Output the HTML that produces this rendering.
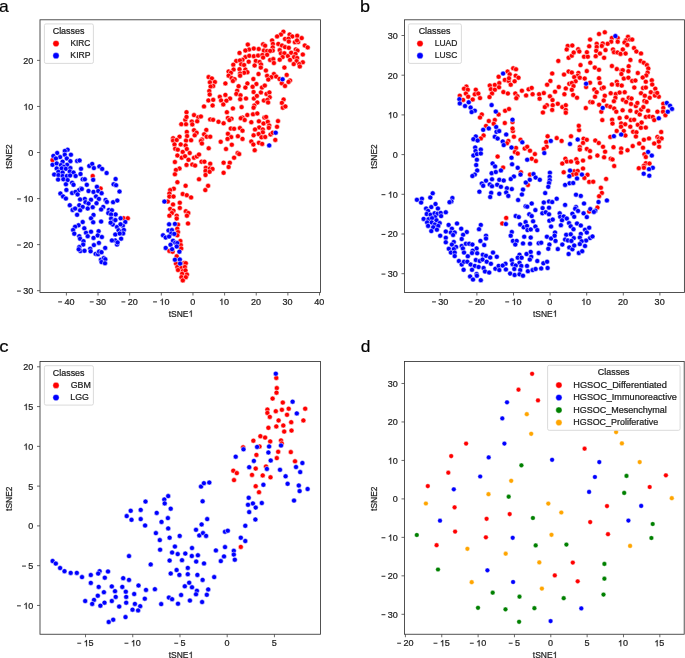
<!DOCTYPE html>
<html><head><meta charset="utf-8"><style>
html,body{margin:0;padding:0;background:#fff;}
body{width:685px;height:658px;overflow:hidden;}
svg{display:block;will-change:transform;}
.r{fill:#ff0000} .b{fill:#0000ff} .g{fill:#008000} .o{fill:#ffa500}
text{font-family:"Liberation Sans", sans-serif;stroke:#1c1c1c;stroke-width:0.22px;}
</style></head><body>
<svg width="685" height="658" viewBox="0 0 685 658">
<g stroke="#fff" stroke-width="0.5">
<circle class="r" cx="52.5" cy="160.1" r="2.5"/>
<circle class="r" cx="92.7" cy="176.0" r="2.5"/>
<circle class="r" cx="100.6" cy="188.5" r="2.5"/>
<circle class="r" cx="123.6" cy="218.3" r="2.5"/>
<circle class="r" cx="127.8" cy="218.3" r="2.5"/>
<circle class="r" cx="167.8" cy="201.6" r="2.5"/>
<circle class="r" cx="173.0" cy="204.4" r="2.5"/>
<circle class="r" cx="179.8" cy="202.7" r="2.5"/>
<circle class="r" cx="179.8" cy="207.9" r="2.5"/>
<circle class="r" cx="170.2" cy="208.9" r="2.5"/>
<circle class="r" cx="173.5" cy="210.7" r="2.5"/>
<circle class="r" cx="171.9" cy="213.0" r="2.5"/>
<circle class="r" cx="169.4" cy="215.7" r="2.5"/>
<circle class="r" cx="176.7" cy="215.7" r="2.5"/>
<circle class="r" cx="176.7" cy="218.5" r="2.5"/>
<circle class="r" cx="185.8" cy="211.2" r="2.5"/>
<circle class="r" cx="188.3" cy="213.0" r="2.5"/>
<circle class="r" cx="186.9" cy="215.7" r="2.5"/>
<circle class="r" cx="188.0" cy="223.5" r="2.5"/>
<circle class="r" cx="178.0" cy="224.6" r="2.5"/>
<circle class="r" cx="177.3" cy="228.7" r="2.5"/>
<circle class="r" cx="178.0" cy="232.1" r="2.5"/>
<circle class="r" cx="177.3" cy="235.3" r="2.5"/>
<circle class="r" cx="180.4" cy="241.0" r="2.5"/>
<circle class="r" cx="180.8" cy="245.1" r="2.5"/>
<circle class="r" cx="181.2" cy="248.5" r="2.5"/>
<circle class="r" cx="169.4" cy="250.9" r="2.5"/>
<circle class="r" cx="172.6" cy="251.7" r="2.5"/>
<circle class="r" cx="176.7" cy="256.3" r="2.5"/>
<circle class="r" cx="176.0" cy="263.6" r="2.5"/>
<circle class="r" cx="184.2" cy="262.9" r="2.5"/>
<circle class="r" cx="185.8" cy="263.2" r="2.5"/>
<circle class="r" cx="177.3" cy="267.0" r="2.5"/>
<circle class="r" cx="181.4" cy="267.7" r="2.5"/>
<circle class="r" cx="184.9" cy="267.0" r="2.5"/>
<circle class="r" cx="178.0" cy="270.0" r="2.5"/>
<circle class="r" cx="182.8" cy="271.1" r="2.5"/>
<circle class="r" cx="185.5" cy="270.4" r="2.5"/>
<circle class="r" cx="182.1" cy="273.8" r="2.5"/>
<circle class="r" cx="186.9" cy="274.5" r="2.5"/>
<circle class="r" cx="181.4" cy="277.2" r="2.5"/>
<circle class="r" cx="185.8" cy="277.2" r="2.5"/>
<circle class="r" cx="182.8" cy="280.4" r="2.5"/>
<circle class="r" cx="186.5" cy="112.2" r="2.5"/>
<circle class="r" cx="194.0" cy="115.1" r="2.5"/>
<circle class="r" cx="198.3" cy="117.2" r="2.5"/>
<circle class="r" cx="200.9" cy="116.5" r="2.5"/>
<circle class="r" cx="185.3" cy="119.8" r="2.5"/>
<circle class="r" cx="186.5" cy="116.9" r="2.5"/>
<circle class="r" cx="181.3" cy="124.2" r="2.5"/>
<circle class="r" cx="186.0" cy="124.2" r="2.5"/>
<circle class="r" cx="191.8" cy="121.6" r="2.5"/>
<circle class="r" cx="192.3" cy="124.4" r="2.5"/>
<circle class="r" cx="197.2" cy="121.3" r="2.5"/>
<circle class="r" cx="210.2" cy="119.4" r="2.5"/>
<circle class="r" cx="213.1" cy="119.8" r="2.5"/>
<circle class="r" cx="218.5" cy="121.8" r="2.5"/>
<circle class="r" cx="223.6" cy="123.3" r="2.5"/>
<circle class="r" cx="226.9" cy="112.2" r="2.5"/>
<circle class="r" cx="227.9" cy="117.9" r="2.5"/>
<circle class="r" cx="231.5" cy="118.7" r="2.5"/>
<circle class="r" cx="229.4" cy="120.1" r="2.5"/>
<circle class="r" cx="230.8" cy="128.5" r="2.5"/>
<circle class="r" cx="234.1" cy="128.8" r="2.5"/>
<circle class="r" cx="206.3" cy="129.9" r="2.5"/>
<circle class="r" cx="194.0" cy="130.2" r="2.5"/>
<circle class="r" cx="196.6" cy="132.8" r="2.5"/>
<circle class="r" cx="194.7" cy="135.3" r="2.5"/>
<circle class="r" cx="186.8" cy="131.9" r="2.5"/>
<circle class="r" cx="187.1" cy="136.0" r="2.5"/>
<circle class="r" cx="179.5" cy="136.7" r="2.5"/>
<circle class="r" cx="173.1" cy="138.2" r="2.5"/>
<circle class="r" cx="173.1" cy="140.6" r="2.5"/>
<circle class="r" cx="176.7" cy="140.0" r="2.5"/>
<circle class="r" cx="186.0" cy="140.6" r="2.5"/>
<circle class="r" cx="191.1" cy="140.3" r="2.5"/>
<circle class="r" cx="201.9" cy="139.6" r="2.5"/>
<circle class="r" cx="200.9" cy="141.0" r="2.5"/>
<circle class="r" cx="201.9" cy="143.5" r="2.5"/>
<circle class="r" cx="204.1" cy="134.3" r="2.5"/>
<circle class="r" cx="206.7" cy="136.7" r="2.5"/>
<circle class="r" cx="210.2" cy="136.7" r="2.5"/>
<circle class="r" cx="180.7" cy="144.4" r="2.5"/>
<circle class="r" cx="174.5" cy="144.4" r="2.5"/>
<circle class="r" cx="185.6" cy="145.4" r="2.5"/>
<circle class="r" cx="175.2" cy="148.7" r="2.5"/>
<circle class="r" cx="177.8" cy="149.7" r="2.5"/>
<circle class="r" cx="182.7" cy="151.9" r="2.5"/>
<circle class="r" cx="186.8" cy="149.0" r="2.5"/>
<circle class="r" cx="189.7" cy="153.0" r="2.5"/>
<circle class="r" cx="177.4" cy="155.5" r="2.5"/>
<circle class="r" cx="181.7" cy="157.7" r="2.5"/>
<circle class="r" cx="185.0" cy="156.2" r="2.5"/>
<circle class="r" cx="188.5" cy="159.8" r="2.5"/>
<circle class="r" cx="194.0" cy="157.7" r="2.5"/>
<circle class="r" cx="196.9" cy="156.5" r="2.5"/>
<circle class="r" cx="199.0" cy="154.5" r="2.5"/>
<circle class="r" cx="174.9" cy="162.0" r="2.5"/>
<circle class="r" cx="186.5" cy="164.9" r="2.5"/>
<circle class="r" cx="192.3" cy="164.6" r="2.5"/>
<circle class="r" cx="195.1" cy="165.6" r="2.5"/>
<circle class="r" cx="201.5" cy="161.7" r="2.5"/>
<circle class="r" cx="204.4" cy="161.7" r="2.5"/>
<circle class="r" cx="210.2" cy="163.7" r="2.5"/>
<circle class="r" cx="205.8" cy="167.8" r="2.5"/>
<circle class="r" cx="209.9" cy="168.5" r="2.5"/>
<circle class="r" cx="212.5" cy="168.9" r="2.5"/>
<circle class="r" cx="205.5" cy="170.9" r="2.5"/>
<circle class="r" cx="209.6" cy="171.8" r="2.5"/>
<circle class="r" cx="205.5" cy="175.0" r="2.5"/>
<circle class="r" cx="179.5" cy="168.5" r="2.5"/>
<circle class="r" cx="175.9" cy="169.9" r="2.5"/>
<circle class="r" cx="174.9" cy="174.3" r="2.5"/>
<circle class="r" cx="199.0" cy="179.3" r="2.5"/>
<circle class="r" cx="177.4" cy="182.2" r="2.5"/>
<circle class="r" cx="185.6" cy="185.8" r="2.5"/>
<circle class="r" cx="208.1" cy="185.8" r="2.5"/>
<circle class="r" cx="205.3" cy="190.1" r="2.5"/>
<circle class="r" cx="173.8" cy="188.7" r="2.5"/>
<circle class="r" cx="170.2" cy="190.1" r="2.5"/>
<circle class="r" cx="169.4" cy="193.5" r="2.5"/>
<circle class="r" cx="169.4" cy="196.6" r="2.5"/>
<circle class="r" cx="173.5" cy="196.6" r="2.5"/>
<circle class="r" cx="182.7" cy="194.0" r="2.5"/>
<circle class="r" cx="186.8" cy="195.2" r="2.5"/>
<circle class="r" cx="191.1" cy="197.4" r="2.5"/>
<circle class="r" cx="220.7" cy="141.8" r="2.5"/>
<circle class="r" cx="231.8" cy="144.7" r="2.5"/>
<circle class="r" cx="226.0" cy="149.0" r="2.5"/>
<circle class="r" cx="208.7" cy="148.3" r="2.5"/>
<circle class="r" cx="223.6" cy="162.7" r="2.5"/>
<circle class="r" cx="229.8" cy="162.7" r="2.5"/>
<circle class="r" cx="228.6" cy="167.0" r="2.5"/>
<circle class="r" cx="223.6" cy="172.8" r="2.5"/>
<circle class="r" cx="227.9" cy="133.8" r="2.5"/>
<circle class="r" cx="231.2" cy="137.1" r="2.5"/>
<circle class="r" cx="227.5" cy="138.9" r="2.5"/>
<circle class="r" cx="234.1" cy="157.7" r="2.5"/>
<circle class="r" cx="237.2" cy="90.7" r="2.5"/>
<circle class="r" cx="236.3" cy="93.9" r="2.5"/>
<circle class="r" cx="240.5" cy="95.3" r="2.5"/>
<circle class="r" cx="240.2" cy="99.2" r="2.5"/>
<circle class="r" cx="246.0" cy="98.5" r="2.5"/>
<circle class="r" cx="230.0" cy="98.5" r="2.5"/>
<circle class="r" cx="232.9" cy="108.4" r="2.5"/>
<circle class="r" cx="241.6" cy="107.1" r="2.5"/>
<circle class="r" cx="253.6" cy="92.0" r="2.5"/>
<circle class="r" cx="260.9" cy="92.4" r="2.5"/>
<circle class="r" cx="266.5" cy="93.9" r="2.5"/>
<circle class="r" cx="269.4" cy="92.4" r="2.5"/>
<circle class="r" cx="269.7" cy="97.2" r="2.5"/>
<circle class="r" cx="253.9" cy="98.5" r="2.5"/>
<circle class="r" cx="256.9" cy="95.9" r="2.5"/>
<circle class="r" cx="263.9" cy="100.5" r="2.5"/>
<circle class="r" cx="267.4" cy="99.9" r="2.5"/>
<circle class="r" cx="268.1" cy="102.5" r="2.5"/>
<circle class="r" cx="257.3" cy="102.5" r="2.5"/>
<circle class="r" cx="254.3" cy="105.5" r="2.5"/>
<circle class="r" cx="253.6" cy="107.7" r="2.5"/>
<circle class="r" cx="283.6" cy="99.5" r="2.5"/>
<circle class="r" cx="281.9" cy="102.9" r="2.5"/>
<circle class="r" cx="282.8" cy="107.7" r="2.5"/>
<circle class="r" cx="285.4" cy="106.4" r="2.5"/>
<circle class="r" cx="247.3" cy="115.0" r="2.5"/>
<circle class="r" cx="253.0" cy="114.3" r="2.5"/>
<circle class="r" cx="257.3" cy="113.4" r="2.5"/>
<circle class="r" cx="264.4" cy="117.6" r="2.5"/>
<circle class="r" cx="266.1" cy="116.9" r="2.5"/>
<circle class="r" cx="242.5" cy="117.6" r="2.5"/>
<circle class="r" cx="240.8" cy="118.2" r="2.5"/>
<circle class="r" cx="244.7" cy="120.0" r="2.5"/>
<circle class="r" cx="251.3" cy="122.2" r="2.5"/>
<circle class="r" cx="258.9" cy="121.3" r="2.5"/>
<circle class="r" cx="263.5" cy="123.5" r="2.5"/>
<circle class="r" cx="267.8" cy="121.8" r="2.5"/>
<circle class="r" cx="278.0" cy="121.1" r="2.5"/>
<circle class="r" cx="277.0" cy="126.8" r="2.5"/>
<circle class="r" cx="269.2" cy="125.5" r="2.5"/>
<circle class="r" cx="259.2" cy="127.4" r="2.5"/>
<circle class="r" cx="255.0" cy="129.4" r="2.5"/>
<circle class="r" cx="262.8" cy="129.4" r="2.5"/>
<circle class="r" cx="268.8" cy="127.8" r="2.5"/>
<circle class="r" cx="239.9" cy="128.1" r="2.5"/>
<circle class="r" cx="242.5" cy="130.7" r="2.5"/>
<circle class="r" cx="262.8" cy="132.3" r="2.5"/>
<circle class="r" cx="258.6" cy="134.0" r="2.5"/>
<circle class="r" cx="253.6" cy="135.3" r="2.5"/>
<circle class="r" cx="261.5" cy="137.3" r="2.5"/>
<circle class="r" cx="265.2" cy="137.0" r="2.5"/>
<circle class="r" cx="270.5" cy="134.4" r="2.5"/>
<circle class="r" cx="272.7" cy="132.7" r="2.5"/>
<circle class="r" cx="237.9" cy="136.2" r="2.5"/>
<circle class="r" cx="242.5" cy="138.9" r="2.5"/>
<circle class="r" cx="275.3" cy="139.9" r="2.5"/>
<circle class="r" cx="251.3" cy="141.5" r="2.5"/>
<circle class="r" cx="258.9" cy="142.8" r="2.5"/>
<circle class="r" cx="262.2" cy="143.9" r="2.5"/>
<circle class="r" cx="253.4" cy="144.5" r="2.5"/>
<circle class="r" cx="254.7" cy="150.2" r="2.5"/>
<circle class="r" cx="237.6" cy="153.1" r="2.5"/>
<circle class="r" cx="239.2" cy="154.1" r="2.5"/>
<circle class="r" cx="247.8" cy="44.6" r="2.5"/>
<circle class="r" cx="249.1" cy="49.5" r="2.5"/>
<circle class="r" cx="245.4" cy="50.5" r="2.5"/>
<circle class="r" cx="239.5" cy="52.9" r="2.5"/>
<circle class="r" cx="245.4" cy="57.1" r="2.5"/>
<circle class="r" cx="249.3" cy="55.8" r="2.5"/>
<circle class="r" cx="242.5" cy="59.7" r="2.5"/>
<circle class="r" cx="236.2" cy="61.0" r="2.5"/>
<circle class="r" cx="239.9" cy="60.4" r="2.5"/>
<circle class="r" cx="233.3" cy="64.7" r="2.5"/>
<circle class="r" cx="241.2" cy="64.3" r="2.5"/>
<circle class="r" cx="244.1" cy="65.0" r="2.5"/>
<circle class="r" cx="248.7" cy="61.7" r="2.5"/>
<circle class="r" cx="233.6" cy="69.6" r="2.5"/>
<circle class="r" cx="239.5" cy="69.2" r="2.5"/>
<circle class="r" cx="245.4" cy="69.6" r="2.5"/>
<circle class="r" cx="247.4" cy="72.2" r="2.5"/>
<circle class="r" cx="244.1" cy="72.8" r="2.5"/>
<circle class="r" cx="240.1" cy="73.5" r="2.5"/>
<circle class="r" cx="240.1" cy="75.7" r="2.5"/>
<circle class="r" cx="228.6" cy="71.5" r="2.5"/>
<circle class="r" cx="230.9" cy="72.8" r="2.5"/>
<circle class="r" cx="228.6" cy="75.7" r="2.5"/>
<circle class="r" cx="231.6" cy="78.1" r="2.5"/>
<circle class="r" cx="234.6" cy="79.2" r="2.5"/>
<circle class="r" cx="232.9" cy="81.0" r="2.5"/>
<circle class="r" cx="208.6" cy="77.1" r="2.5"/>
<circle class="r" cx="211.9" cy="78.4" r="2.5"/>
<circle class="r" cx="209.9" cy="82.3" r="2.5"/>
<circle class="r" cx="214.9" cy="82.0" r="2.5"/>
<circle class="r" cx="213.2" cy="86.0" r="2.5"/>
<circle class="r" cx="210.6" cy="86.6" r="2.5"/>
<circle class="r" cx="225.4" cy="83.4" r="2.5"/>
<circle class="r" cx="238.6" cy="86.2" r="2.5"/>
<circle class="r" cx="247.4" cy="83.4" r="2.5"/>
<circle class="r" cx="245.4" cy="87.6" r="2.5"/>
<circle class="r" cx="209.3" cy="91.0" r="2.5"/>
<circle class="r" cx="209.7" cy="94.5" r="2.5"/>
<circle class="r" cx="219.8" cy="96.8" r="2.5"/>
<circle class="r" cx="225.4" cy="94.9" r="2.5"/>
<circle class="r" cx="221.1" cy="100.4" r="2.5"/>
<circle class="r" cx="226.4" cy="100.7" r="2.5"/>
<circle class="r" cx="208.4" cy="100.4" r="2.5"/>
<circle class="r" cx="213.2" cy="99.8" r="2.5"/>
<circle class="r" cx="223.3" cy="104.4" r="2.5"/>
<circle class="r" cx="204.0" cy="106.4" r="2.5"/>
<circle class="r" cx="212.6" cy="105.4" r="2.5"/>
<circle class="r" cx="283.4" cy="31.7" r="2.5"/>
<circle class="r" cx="280.9" cy="34.6" r="2.5"/>
<circle class="r" cx="277.1" cy="36.4" r="2.5"/>
<circle class="r" cx="289.6" cy="34.6" r="2.5"/>
<circle class="r" cx="292.3" cy="36.4" r="2.5"/>
<circle class="r" cx="297.2" cy="35.8" r="2.5"/>
<circle class="r" cx="301.7" cy="38.1" r="2.5"/>
<circle class="r" cx="285.0" cy="38.9" r="2.5"/>
<circle class="r" cx="288.5" cy="38.7" r="2.5"/>
<circle class="r" cx="288.8" cy="41.6" r="2.5"/>
<circle class="r" cx="294.9" cy="42.2" r="2.5"/>
<circle class="r" cx="298.2" cy="42.0" r="2.5"/>
<circle class="r" cx="297.0" cy="40.4" r="2.5"/>
<circle class="r" cx="272.1" cy="40.4" r="2.5"/>
<circle class="r" cx="272.9" cy="43.9" r="2.5"/>
<circle class="r" cx="278.3" cy="43.9" r="2.5"/>
<circle class="r" cx="282.0" cy="45.5" r="2.5"/>
<circle class="r" cx="285.0" cy="47.1" r="2.5"/>
<circle class="r" cx="288.8" cy="47.8" r="2.5"/>
<circle class="r" cx="304.8" cy="45.5" r="2.5"/>
<circle class="r" cx="307.7" cy="47.4" r="2.5"/>
<circle class="r" cx="263.1" cy="44.3" r="2.5"/>
<circle class="r" cx="265.1" cy="45.7" r="2.5"/>
<circle class="r" cx="272.7" cy="47.4" r="2.5"/>
<circle class="r" cx="272.7" cy="50.6" r="2.5"/>
<circle class="r" cx="279.7" cy="50.1" r="2.5"/>
<circle class="r" cx="280.9" cy="53.3" r="2.5"/>
<circle class="r" cx="284.4" cy="53.3" r="2.5"/>
<circle class="r" cx="287.9" cy="56.0" r="2.5"/>
<circle class="r" cx="291.2" cy="52.7" r="2.5"/>
<circle class="r" cx="295.8" cy="49.4" r="2.5"/>
<circle class="r" cx="297.5" cy="50.6" r="2.5"/>
<circle class="r" cx="295.5" cy="53.9" r="2.5"/>
<circle class="r" cx="294.0" cy="57.1" r="2.5"/>
<circle class="r" cx="297.2" cy="58.0" r="2.5"/>
<circle class="r" cx="302.8" cy="54.5" r="2.5"/>
<circle class="r" cx="282.6" cy="57.1" r="2.5"/>
<circle class="r" cx="279.7" cy="59.7" r="2.5"/>
<circle class="r" cx="290.0" cy="59.9" r="2.5"/>
<circle class="r" cx="296.6" cy="61.1" r="2.5"/>
<circle class="r" cx="302.8" cy="62.3" r="2.5"/>
<circle class="r" cx="293.7" cy="64.1" r="2.5"/>
<circle class="r" cx="299.3" cy="64.1" r="2.5"/>
<circle class="r" cx="299.8" cy="66.5" r="2.5"/>
<circle class="r" cx="284.4" cy="67.6" r="2.5"/>
<circle class="r" cx="253.8" cy="48.6" r="2.5"/>
<circle class="r" cx="258.7" cy="49.0" r="2.5"/>
<circle class="r" cx="263.9" cy="50.6" r="2.5"/>
<circle class="r" cx="267.1" cy="50.9" r="2.5"/>
<circle class="r" cx="270.1" cy="50.9" r="2.5"/>
<circle class="r" cx="253.8" cy="56.2" r="2.5"/>
<circle class="r" cx="258.1" cy="55.6" r="2.5"/>
<circle class="r" cx="262.4" cy="55.0" r="2.5"/>
<circle class="r" cx="267.1" cy="54.8" r="2.5"/>
<circle class="r" cx="263.1" cy="57.6" r="2.5"/>
<circle class="r" cx="255.8" cy="60.9" r="2.5"/>
<circle class="r" cx="259.6" cy="62.0" r="2.5"/>
<circle class="r" cx="270.1" cy="59.9" r="2.5"/>
<circle class="r" cx="273.3" cy="59.1" r="2.5"/>
<circle class="r" cx="273.9" cy="63.0" r="2.5"/>
<circle class="r" cx="254.6" cy="65.5" r="2.5"/>
<circle class="r" cx="261.0" cy="64.4" r="2.5"/>
<circle class="r" cx="260.8" cy="67.6" r="2.5"/>
<circle class="r" cx="265.9" cy="70.5" r="2.5"/>
<circle class="r" cx="258.5" cy="74.0" r="2.5"/>
<circle class="r" cx="267.1" cy="75.8" r="2.5"/>
<circle class="r" cx="273.9" cy="74.0" r="2.5"/>
<circle class="r" cx="271.3" cy="77.2" r="2.5"/>
<circle class="r" cx="276.2" cy="76.6" r="2.5"/>
<circle class="r" cx="268.3" cy="79.6" r="2.5"/>
<circle class="r" cx="279.5" cy="79.0" r="2.5"/>
<circle class="r" cx="286.7" cy="74.9" r="2.5"/>
<circle class="r" cx="290.0" cy="80.5" r="2.5"/>
<circle class="r" cx="288.5" cy="81.9" r="2.5"/>
<circle class="r" cx="253.4" cy="79.0" r="2.5"/>
<circle class="r" cx="256.4" cy="84.0" r="2.5"/>
<circle class="r" cx="252.6" cy="86.8" r="2.5"/>
<circle class="r" cx="262.0" cy="87.5" r="2.5"/>
<circle class="r" cx="264.8" cy="85.6" r="2.5"/>
<circle class="r" cx="281.8" cy="83.3" r="2.5"/>
<circle class="r" cx="285.0" cy="86.0" r="2.5"/>
<circle class="b" cx="67.6" cy="149.7" r="2.5"/>
<circle class="b" cx="64.8" cy="150.9" r="2.5"/>
<circle class="b" cx="57.2" cy="153.0" r="2.5"/>
<circle class="b" cx="53.4" cy="155.9" r="2.5"/>
<circle class="b" cx="64.8" cy="154.7" r="2.5"/>
<circle class="b" cx="70.9" cy="154.7" r="2.5"/>
<circle class="b" cx="60.1" cy="157.1" r="2.5"/>
<circle class="b" cx="55.9" cy="158.4" r="2.5"/>
<circle class="b" cx="66.8" cy="158.4" r="2.5"/>
<circle class="b" cx="62.6" cy="161.7" r="2.5"/>
<circle class="b" cx="70.4" cy="161.2" r="2.5"/>
<circle class="b" cx="77.1" cy="160.9" r="2.5"/>
<circle class="b" cx="79.6" cy="160.4" r="2.5"/>
<circle class="b" cx="52.5" cy="164.8" r="2.5"/>
<circle class="b" cx="56.7" cy="163.4" r="2.5"/>
<circle class="b" cx="60.9" cy="165.1" r="2.5"/>
<circle class="b" cx="67.1" cy="164.8" r="2.5"/>
<circle class="b" cx="63.8" cy="166.8" r="2.5"/>
<circle class="b" cx="56.7" cy="168.4" r="2.5"/>
<circle class="b" cx="61.7" cy="168.4" r="2.5"/>
<circle class="b" cx="65.9" cy="168.8" r="2.5"/>
<circle class="b" cx="70.4" cy="168.1" r="2.5"/>
<circle class="b" cx="69.8" cy="171.4" r="2.5"/>
<circle class="b" cx="73.5" cy="172.6" r="2.5"/>
<circle class="b" cx="81.0" cy="168.8" r="2.5"/>
<circle class="b" cx="58.4" cy="171.8" r="2.5"/>
<circle class="b" cx="62.6" cy="172.6" r="2.5"/>
<circle class="b" cx="54.2" cy="174.6" r="2.5"/>
<circle class="b" cx="58.4" cy="175.1" r="2.5"/>
<circle class="b" cx="62.6" cy="176.0" r="2.5"/>
<circle class="b" cx="66.8" cy="176.0" r="2.5"/>
<circle class="b" cx="70.1" cy="175.5" r="2.5"/>
<circle class="b" cx="75.6" cy="176.0" r="2.5"/>
<circle class="b" cx="80.5" cy="174.0" r="2.5"/>
<circle class="b" cx="58.1" cy="179.6" r="2.5"/>
<circle class="b" cx="63.4" cy="179.3" r="2.5"/>
<circle class="b" cx="67.6" cy="180.1" r="2.5"/>
<circle class="b" cx="72.1" cy="182.7" r="2.5"/>
<circle class="b" cx="65.9" cy="184.3" r="2.5"/>
<circle class="b" cx="73.5" cy="184.8" r="2.5"/>
<circle class="b" cx="82.7" cy="179.3" r="2.5"/>
<circle class="b" cx="84.8" cy="179.3" r="2.5"/>
<circle class="b" cx="89.3" cy="165.9" r="2.5"/>
<circle class="b" cx="92.2" cy="163.9" r="2.5"/>
<circle class="b" cx="93.9" cy="168.1" r="2.5"/>
<circle class="b" cx="99.4" cy="166.4" r="2.5"/>
<circle class="b" cx="102.2" cy="168.9" r="2.5"/>
<circle class="b" cx="106.6" cy="173.0" r="2.5"/>
<circle class="b" cx="93.2" cy="179.8" r="2.5"/>
<circle class="b" cx="115.6" cy="179.0" r="2.5"/>
<circle class="b" cx="113.6" cy="184.3" r="2.5"/>
<circle class="b" cx="116.1" cy="185.2" r="2.5"/>
<circle class="b" cx="119.5" cy="191.5" r="2.5"/>
<circle class="b" cx="86.8" cy="184.8" r="2.5"/>
<circle class="b" cx="81.0" cy="188.5" r="2.5"/>
<circle class="b" cx="78.8" cy="190.2" r="2.5"/>
<circle class="b" cx="66.4" cy="189.9" r="2.5"/>
<circle class="b" cx="60.4" cy="193.5" r="2.5"/>
<circle class="b" cx="63.1" cy="196.4" r="2.5"/>
<circle class="b" cx="65.9" cy="198.6" r="2.5"/>
<circle class="b" cx="72.1" cy="193.0" r="2.5"/>
<circle class="b" cx="75.5" cy="191.9" r="2.5"/>
<circle class="b" cx="77.6" cy="194.4" r="2.5"/>
<circle class="b" cx="81.8" cy="189.0" r="2.5"/>
<circle class="b" cx="88.5" cy="191.0" r="2.5"/>
<circle class="b" cx="93.5" cy="191.9" r="2.5"/>
<circle class="b" cx="96.9" cy="186.8" r="2.5"/>
<circle class="b" cx="98.2" cy="191.0" r="2.5"/>
<circle class="b" cx="101.6" cy="193.2" r="2.5"/>
<circle class="b" cx="96.0" cy="196.4" r="2.5"/>
<circle class="b" cx="98.9" cy="198.9" r="2.5"/>
<circle class="b" cx="80.1" cy="199.4" r="2.5"/>
<circle class="b" cx="84.8" cy="198.9" r="2.5"/>
<circle class="b" cx="91.0" cy="199.7" r="2.5"/>
<circle class="b" cx="85.5" cy="202.2" r="2.5"/>
<circle class="b" cx="88.5" cy="203.6" r="2.5"/>
<circle class="b" cx="69.8" cy="205.2" r="2.5"/>
<circle class="b" cx="72.6" cy="209.9" r="2.5"/>
<circle class="b" cx="75.1" cy="208.6" r="2.5"/>
<circle class="b" cx="79.3" cy="205.2" r="2.5"/>
<circle class="b" cx="82.7" cy="206.9" r="2.5"/>
<circle class="b" cx="80.1" cy="210.3" r="2.5"/>
<circle class="b" cx="87.7" cy="208.6" r="2.5"/>
<circle class="b" cx="92.7" cy="207.2" r="2.5"/>
<circle class="b" cx="96.5" cy="203.2" r="2.5"/>
<circle class="b" cx="105.6" cy="199.9" r="2.5"/>
<circle class="b" cx="106.9" cy="201.9" r="2.5"/>
<circle class="b" cx="113.1" cy="202.2" r="2.5"/>
<circle class="b" cx="117.3" cy="200.6" r="2.5"/>
<circle class="b" cx="103.2" cy="206.9" r="2.5"/>
<circle class="b" cx="101.1" cy="209.4" r="2.5"/>
<circle class="b" cx="108.9" cy="209.9" r="2.5"/>
<circle class="b" cx="111.9" cy="210.3" r="2.5"/>
<circle class="b" cx="108.3" cy="213.1" r="2.5"/>
<circle class="b" cx="115.6" cy="214.4" r="2.5"/>
<circle class="b" cx="111.1" cy="214.4" r="2.5"/>
<circle class="b" cx="77.1" cy="214.8" r="2.5"/>
<circle class="b" cx="93.5" cy="214.9" r="2.5"/>
<circle class="b" cx="91.0" cy="218.3" r="2.5"/>
<circle class="b" cx="93.2" cy="222.3" r="2.5"/>
<circle class="b" cx="101.1" cy="221.6" r="2.5"/>
<circle class="b" cx="111.1" cy="218.6" r="2.5"/>
<circle class="b" cx="120.6" cy="218.3" r="2.5"/>
<circle class="b" cx="113.6" cy="221.1" r="2.5"/>
<circle class="b" cx="125.3" cy="222.0" r="2.5"/>
<circle class="b" cx="112.8" cy="224.5" r="2.5"/>
<circle class="b" cx="117.0" cy="227.0" r="2.5"/>
<circle class="b" cx="122.8" cy="225.7" r="2.5"/>
<circle class="b" cx="118.6" cy="230.3" r="2.5"/>
<circle class="b" cx="122.0" cy="231.2" r="2.5"/>
<circle class="b" cx="82.7" cy="222.0" r="2.5"/>
<circle class="b" cx="78.5" cy="225.3" r="2.5"/>
<circle class="b" cx="75.1" cy="226.7" r="2.5"/>
<circle class="b" cx="73.1" cy="230.0" r="2.5"/>
<circle class="b" cx="74.3" cy="233.7" r="2.5"/>
<circle class="b" cx="84.3" cy="228.3" r="2.5"/>
<circle class="b" cx="86.0" cy="232.8" r="2.5"/>
<circle class="b" cx="91.0" cy="231.7" r="2.5"/>
<circle class="b" cx="87.7" cy="236.2" r="2.5"/>
<circle class="b" cx="79.3" cy="236.2" r="2.5"/>
<circle class="b" cx="80.1" cy="238.7" r="2.5"/>
<circle class="b" cx="83.5" cy="241.2" r="2.5"/>
<circle class="b" cx="93.5" cy="237.9" r="2.5"/>
<circle class="b" cx="98.6" cy="231.2" r="2.5"/>
<circle class="b" cx="97.7" cy="235.4" r="2.5"/>
<circle class="b" cx="101.9" cy="237.0" r="2.5"/>
<circle class="b" cx="98.9" cy="242.9" r="2.5"/>
<circle class="b" cx="93.9" cy="245.1" r="2.5"/>
<circle class="b" cx="115.3" cy="234.5" r="2.5"/>
<circle class="b" cx="121.1" cy="238.7" r="2.5"/>
<circle class="b" cx="115.3" cy="240.4" r="2.5"/>
<circle class="b" cx="111.9" cy="240.4" r="2.5"/>
<circle class="b" cx="117.0" cy="244.6" r="2.5"/>
<circle class="b" cx="83.2" cy="244.6" r="2.5"/>
<circle class="b" cx="79.3" cy="247.1" r="2.5"/>
<circle class="b" cx="90.2" cy="248.7" r="2.5"/>
<circle class="b" cx="105.2" cy="247.9" r="2.5"/>
<circle class="b" cx="80.4" cy="251.0" r="2.5"/>
<circle class="b" cx="84.5" cy="250.8" r="2.5"/>
<circle class="b" cx="90.6" cy="251.3" r="2.5"/>
<circle class="b" cx="95.6" cy="253.9" r="2.5"/>
<circle class="b" cx="98.0" cy="254.3" r="2.5"/>
<circle class="b" cx="99.1" cy="251.6" r="2.5"/>
<circle class="b" cx="101.5" cy="252.2" r="2.5"/>
<circle class="b" cx="100.9" cy="259.8" r="2.5"/>
<circle class="b" cx="103.8" cy="258.0" r="2.5"/>
<circle class="b" cx="105.3" cy="259.2" r="2.5"/>
<circle class="b" cx="101.5" cy="262.1" r="2.5"/>
<circle class="b" cx="105.0" cy="263.3" r="2.5"/>
<circle class="b" cx="78.7" cy="249.3" r="2.5"/>
<circle class="b" cx="164.4" cy="201.6" r="2.5"/>
<circle class="b" cx="169.1" cy="224.3" r="2.5"/>
<circle class="b" cx="174.9" cy="223.9" r="2.5"/>
<circle class="b" cx="168.5" cy="230.4" r="2.5"/>
<circle class="b" cx="171.9" cy="230.1" r="2.5"/>
<circle class="b" cx="171.2" cy="233.5" r="2.5"/>
<circle class="b" cx="174.3" cy="233.9" r="2.5"/>
<circle class="b" cx="163.0" cy="235.3" r="2.5"/>
<circle class="b" cx="165.7" cy="237.6" r="2.5"/>
<circle class="b" cx="169.1" cy="236.6" r="2.5"/>
<circle class="b" cx="173.0" cy="240.7" r="2.5"/>
<circle class="b" cx="175.3" cy="242.7" r="2.5"/>
<circle class="b" cx="170.5" cy="244.8" r="2.5"/>
<circle class="b" cx="177.3" cy="243.1" r="2.5"/>
<circle class="b" cx="176.7" cy="246.5" r="2.5"/>
<circle class="b" cx="165.7" cy="247.9" r="2.5"/>
<circle class="b" cx="172.1" cy="249.2" r="2.5"/>
<circle class="b" cx="179.4" cy="251.7" r="2.5"/>
<circle class="b" cx="174.9" cy="259.7" r="2.5"/>
<circle class="b" cx="179.8" cy="259.5" r="2.5"/>
<circle class="b" cx="180.1" cy="263.6" r="2.5"/>
<circle class="b" cx="275.7" cy="132.7" r="2.5"/>
<circle class="b" cx="269.2" cy="145.4" r="2.5"/>
<circle class="b" cx="282.6" cy="79.3" r="2.5"/>
<circle class="b" cx="115.4" cy="220.1" r="2.5"/>
<circle class="b" cx="110.6" cy="222.7" r="2.5"/>
<circle class="b" cx="120.5" cy="224.3" r="2.5"/>
<circle class="b" cx="123.9" cy="229.9" r="2.5"/>
<circle class="b" cx="123.1" cy="233.4" r="2.5"/>
<circle class="b" cx="119.7" cy="233.6" r="2.5"/>
<circle class="b" cx="117.6" cy="242.4" r="2.5"/>
</g>
<rect x="40" y="19.8" width="280.5" height="272.7" fill="none" stroke="#333" stroke-width="0.85"/>
<line x1="66.40" y1="292.5" x2="66.40" y2="295.5" stroke="#444" stroke-width="0.8"/>
<rect x="58.14" y="301.42" width="3.9" height="0.95" fill="#1c1c1c"/>
<text transform="translate(64.44,304.95) scale(1.0400,1)" font-size="8.7" fill="#1c1c1c">40</text>
<line x1="98.04" y1="292.5" x2="98.04" y2="295.5" stroke="#444" stroke-width="0.8"/>
<rect x="89.78" y="301.42" width="3.9" height="0.95" fill="#1c1c1c"/>
<text transform="translate(96.08,304.95) scale(1.0400,1)" font-size="8.7" fill="#1c1c1c">30</text>
<line x1="129.68" y1="292.5" x2="129.68" y2="295.5" stroke="#444" stroke-width="0.8"/>
<rect x="121.42" y="301.42" width="3.9" height="0.95" fill="#1c1c1c"/>
<text transform="translate(127.72,304.95) scale(1.0400,1)" font-size="8.7" fill="#1c1c1c">20</text>
<line x1="161.32" y1="292.5" x2="161.32" y2="295.5" stroke="#444" stroke-width="0.8"/>
<rect x="153.06" y="301.42" width="3.9" height="0.95" fill="#1c1c1c"/>
<path transform="translate(159.36,304.95) scale(0.00905,-0.00870)" d="M372.6 0L284.7 0L284.7 560Q235 512 117.2 456L117.2 541Q212 588 258 640Q289 678 299.3 716L372.6 716Z" fill="#1c1c1c" stroke="#1c1c1c" stroke-width="0.22" vector-effect="non-scaling-stroke"/>
<text transform="translate(164.40,304.95) scale(1.0400,1)" font-size="8.7" fill="#1c1c1c">0</text>
<line x1="192.96" y1="292.5" x2="192.96" y2="295.5" stroke="#444" stroke-width="0.8"/>
<text transform="translate(190.19,304.95) scale(1.0400,1)" font-size="8.7" fill="#1c1c1c">0</text>
<line x1="224.60" y1="292.5" x2="224.60" y2="295.5" stroke="#444" stroke-width="0.8"/>
<path transform="translate(218.96,304.95) scale(0.00905,-0.00870)" d="M372.6 0L284.7 0L284.7 560Q235 512 117.2 456L117.2 541Q212 588 258 640Q289 678 299.3 716L372.6 716Z" fill="#1c1c1c" stroke="#1c1c1c" stroke-width="0.22" vector-effect="non-scaling-stroke"/>
<text transform="translate(224.00,304.95) scale(1.0400,1)" font-size="8.7" fill="#1c1c1c">0</text>
<line x1="256.24" y1="292.5" x2="256.24" y2="295.5" stroke="#444" stroke-width="0.8"/>
<text transform="translate(250.91,304.95) scale(1.0400,1)" font-size="8.7" fill="#1c1c1c">20</text>
<line x1="287.88" y1="292.5" x2="287.88" y2="295.5" stroke="#444" stroke-width="0.8"/>
<text transform="translate(282.60,304.95) scale(1.0400,1)" font-size="8.7" fill="#1c1c1c">30</text>
<line x1="319.52" y1="292.5" x2="319.52" y2="295.5" stroke="#444" stroke-width="0.8"/>
<text transform="translate(314.31,304.95) scale(1.0400,1)" font-size="8.7" fill="#1c1c1c">40</text>
<line x1="37.0" y1="290.68" x2="40" y2="290.68" stroke="#444" stroke-width="0.8"/>
<rect x="16.99" y="290.60" width="3.9" height="0.95" fill="#1c1c1c"/>
<text transform="translate(23.29,294.13) scale(1.0400,1)" font-size="8.7" fill="#1c1c1c">30</text>
<line x1="37.0" y1="244.62" x2="40" y2="244.62" stroke="#444" stroke-width="0.8"/>
<rect x="16.99" y="244.54" width="3.9" height="0.95" fill="#1c1c1c"/>
<text transform="translate(23.29,248.07) scale(1.0400,1)" font-size="8.7" fill="#1c1c1c">20</text>
<line x1="37.0" y1="198.56" x2="40" y2="198.56" stroke="#444" stroke-width="0.8"/>
<rect x="16.99" y="198.48" width="3.9" height="0.95" fill="#1c1c1c"/>
<path transform="translate(23.29,202.01) scale(0.00905,-0.00870)" d="M372.6 0L284.7 0L284.7 560Q235 512 117.2 456L117.2 541Q212 588 258 640Q289 678 299.3 716L372.6 716Z" fill="#1c1c1c" stroke="#1c1c1c" stroke-width="0.22" vector-effect="non-scaling-stroke"/>
<text transform="translate(28.32,202.01) scale(1.0400,1)" font-size="8.7" fill="#1c1c1c">0</text>
<line x1="37.0" y1="152.50" x2="40" y2="152.50" stroke="#444" stroke-width="0.8"/>
<text transform="translate(28.32,155.95) scale(1.0400,1)" font-size="8.7" fill="#1c1c1c">0</text>
<line x1="37.0" y1="106.44" x2="40" y2="106.44" stroke="#444" stroke-width="0.8"/>
<path transform="translate(23.29,109.89) scale(0.00905,-0.00870)" d="M372.6 0L284.7 0L284.7 560Q235 512 117.2 456L117.2 541Q212 588 258 640Q289 678 299.3 716L372.6 716Z" fill="#1c1c1c" stroke="#1c1c1c" stroke-width="0.22" vector-effect="non-scaling-stroke"/>
<text transform="translate(28.32,109.89) scale(1.0400,1)" font-size="8.7" fill="#1c1c1c">0</text>
<line x1="37.0" y1="60.38" x2="40" y2="60.38" stroke="#444" stroke-width="0.8"/>
<text transform="translate(23.29,63.83) scale(1.0400,1)" font-size="8.7" fill="#1c1c1c">20</text>
<text transform="translate(168.69,316.70) scale(0.9650,1)" font-size="8.8" fill="#1c1c1c">tSNE</text>
<path transform="translate(188.51,316.70) scale(0.00849,-0.00880)" d="M372.6 0L284.7 0L284.7 560Q235 512 117.2 456L117.2 541Q212 588 258 640Q289 678 299.3 716L372.6 716Z" fill="#1c1c1c" stroke="#1c1c1c" stroke-width="0.22" vector-effect="non-scaling-stroke"/>
<g transform="translate(11.8,156.60) rotate(-90)"><text transform="translate(-12.06,0.00) scale(0.9180,1)" font-size="9.2" fill="#1c1c1c">tSNE2</text></g>
<rect x="44.4" y="23.9" width="49" height="39.5" rx="1.6" fill="#fff" fill-opacity="0.8" stroke="#d6d6d6" stroke-width="0.9"/>
<text x="52.70" y="33.80" font-size="8.3" fill="#1c1c1c" textLength="31.78" lengthAdjust="spacingAndGlyphs">Classes</text>
<circle cx="56.0" cy="43.60" r="3.15" fill="#ff0000" stroke="#fff" stroke-width="0.4"/>
<text x="70.41" y="45.80" font-size="8.3" fill="#1c1c1c" textLength="20.01" lengthAdjust="spacingAndGlyphs">KIRC</text>
<circle cx="56.0" cy="55.70" r="3.15" fill="#0000ff" stroke="#fff" stroke-width="0.4"/>
<text x="70.39" y="57.90" font-size="8.3" fill="#1c1c1c" textLength="20.16" lengthAdjust="spacingAndGlyphs">KIRP</text>
<text x="-0.99" y="12.20" font-size="17" fill="#000" textLength="9.74" lengthAdjust="spacingAndGlyphs">a</text>
<g stroke="#fff" stroke-width="0.5">
<circle class="r" cx="466.4" cy="86.6" r="2.5"/>
<circle class="r" cx="464.0" cy="88.7" r="2.5"/>
<circle class="r" cx="467.8" cy="89.7" r="2.5"/>
<circle class="r" cx="459.8" cy="95.7" r="2.5"/>
<circle class="r" cx="465.9" cy="93.6" r="2.5"/>
<circle class="r" cx="468.2" cy="96.7" r="2.5"/>
<circle class="r" cx="463.1" cy="99.9" r="2.5"/>
<circle class="r" cx="475.8" cy="89.7" r="2.5"/>
<circle class="r" cx="474.8" cy="94.3" r="2.5"/>
<circle class="r" cx="478.3" cy="93.6" r="2.5"/>
<circle class="r" cx="480.0" cy="98.1" r="2.5"/>
<circle class="r" cx="472.7" cy="99.5" r="2.5"/>
<circle class="r" cx="489.8" cy="85.5" r="2.5"/>
<circle class="r" cx="494.8" cy="84.9" r="2.5"/>
<circle class="r" cx="498.6" cy="76.8" r="2.5"/>
<circle class="r" cx="499.3" cy="83.1" r="2.5"/>
<circle class="r" cx="499.0" cy="87.3" r="2.5"/>
<circle class="r" cx="490.9" cy="89.2" r="2.5"/>
<circle class="r" cx="494.8" cy="89.7" r="2.5"/>
<circle class="r" cx="492.0" cy="93.4" r="2.5"/>
<circle class="r" cx="489.5" cy="97.1" r="2.5"/>
<circle class="r" cx="481.8" cy="114.4" r="2.5"/>
<circle class="r" cx="480.0" cy="117.5" r="2.5"/>
<circle class="r" cx="488.8" cy="121.0" r="2.5"/>
<circle class="r" cx="494.8" cy="120.0" r="2.5"/>
<circle class="r" cx="493.7" cy="123.8" r="2.5"/>
<circle class="r" cx="486.0" cy="125.9" r="2.5"/>
<circle class="r" cx="498.6" cy="114.4" r="2.5"/>
<circle class="r" cx="483.6" cy="135.4" r="2.5"/>
<circle class="r" cx="480.8" cy="138.5" r="2.5"/>
<circle class="r" cx="497.6" cy="156.6" r="2.5"/>
<circle class="r" cx="506.2" cy="217.9" r="2.5"/>
<circle class="r" cx="502.3" cy="223.5" r="2.5"/>
<circle class="r" cx="589.2" cy="211.5" r="2.5"/>
<circle class="r" cx="512.9" cy="131.1" r="2.5"/>
<circle class="r" cx="513.9" cy="136.7" r="2.5"/>
<circle class="r" cx="508.3" cy="140.9" r="2.5"/>
<circle class="r" cx="506.9" cy="143.3" r="2.5"/>
<circle class="r" cx="520.5" cy="139.8" r="2.5"/>
<circle class="r" cx="516.0" cy="147.9" r="2.5"/>
<circle class="r" cx="514.9" cy="152.1" r="2.5"/>
<circle class="r" cx="517.7" cy="153.5" r="2.5"/>
<circle class="r" cx="524.7" cy="148.5" r="2.5"/>
<circle class="r" cx="527.2" cy="146.8" r="2.5"/>
<circle class="r" cx="530.0" cy="150.7" r="2.5"/>
<circle class="r" cx="534.9" cy="154.1" r="2.5"/>
<circle class="r" cx="531.7" cy="158.7" r="2.5"/>
<circle class="r" cx="535.9" cy="161.1" r="2.5"/>
<circle class="r" cx="503.1" cy="167.6" r="2.5"/>
<circle class="r" cx="520.9" cy="172.3" r="2.5"/>
<circle class="r" cx="530.0" cy="174.6" r="2.5"/>
<circle class="r" cx="527.9" cy="184.9" r="2.5"/>
<circle class="r" cx="547.6" cy="136.3" r="2.5"/>
<circle class="r" cx="546.2" cy="141.9" r="2.5"/>
<circle class="r" cx="546.6" cy="146.8" r="2.5"/>
<circle class="r" cx="543.8" cy="148.9" r="2.5"/>
<circle class="r" cx="556.7" cy="138.1" r="2.5"/>
<circle class="r" cx="561.6" cy="140.9" r="2.5"/>
<circle class="r" cx="571.0" cy="136.3" r="2.5"/>
<circle class="r" cx="583.6" cy="138.7" r="2.5"/>
<circle class="r" cx="586.8" cy="139.8" r="2.5"/>
<circle class="r" cx="583.0" cy="142.9" r="2.5"/>
<circle class="r" cx="579.8" cy="147.1" r="2.5"/>
<circle class="r" cx="579.8" cy="149.6" r="2.5"/>
<circle class="r" cx="586.8" cy="148.9" r="2.5"/>
<circle class="r" cx="590.0" cy="151.0" r="2.5"/>
<circle class="r" cx="590.0" cy="157.3" r="2.5"/>
<circle class="r" cx="565.4" cy="158.7" r="2.5"/>
<circle class="r" cx="562.3" cy="163.6" r="2.5"/>
<circle class="r" cx="566.8" cy="161.5" r="2.5"/>
<circle class="r" cx="571.0" cy="161.5" r="2.5"/>
<circle class="r" cx="576.3" cy="159.2" r="2.5"/>
<circle class="r" cx="577.4" cy="162.5" r="2.5"/>
<circle class="r" cx="583.0" cy="160.6" r="2.5"/>
<circle class="r" cx="583.0" cy="168.5" r="2.5"/>
<circle class="r" cx="563.7" cy="172.3" r="2.5"/>
<circle class="r" cx="574.2" cy="171.3" r="2.5"/>
<circle class="r" cx="577.7" cy="170.9" r="2.5"/>
<circle class="r" cx="572.8" cy="174.6" r="2.5"/>
<circle class="r" cx="576.3" cy="174.1" r="2.5"/>
<circle class="r" cx="587.5" cy="174.8" r="2.5"/>
<circle class="r" cx="584.4" cy="177.9" r="2.5"/>
<circle class="r" cx="589.2" cy="181.9" r="2.5"/>
<circle class="r" cx="579.1" cy="130.0" r="2.5"/>
<circle class="r" cx="513.2" cy="68.3" r="2.5"/>
<circle class="r" cx="516.0" cy="69.3" r="2.5"/>
<circle class="r" cx="507.6" cy="71.5" r="2.5"/>
<circle class="r" cx="509.7" cy="74.3" r="2.5"/>
<circle class="r" cx="515.7" cy="75.7" r="2.5"/>
<circle class="r" cx="518.5" cy="77.7" r="2.5"/>
<circle class="r" cx="504.8" cy="79.9" r="2.5"/>
<circle class="r" cx="508.7" cy="80.9" r="2.5"/>
<circle class="r" cx="514.6" cy="81.3" r="2.5"/>
<circle class="r" cx="510.7" cy="84.7" r="2.5"/>
<circle class="r" cx="503.4" cy="92.1" r="2.5"/>
<circle class="r" cx="507.9" cy="93.5" r="2.5"/>
<circle class="r" cx="515.3" cy="93.5" r="2.5"/>
<circle class="r" cx="517.4" cy="96.3" r="2.5"/>
<circle class="r" cx="516.3" cy="98.2" r="2.5"/>
<circle class="r" cx="521.9" cy="90.7" r="2.5"/>
<circle class="r" cx="526.1" cy="95.4" r="2.5"/>
<circle class="r" cx="528.6" cy="89.3" r="2.5"/>
<circle class="r" cx="531.7" cy="87.9" r="2.5"/>
<circle class="r" cx="532.6" cy="94.2" r="2.5"/>
<circle class="r" cx="539.1" cy="94.2" r="2.5"/>
<circle class="r" cx="543.8" cy="93.1" r="2.5"/>
<circle class="r" cx="539.6" cy="98.7" r="2.5"/>
<circle class="r" cx="552.2" cy="73.5" r="2.5"/>
<circle class="r" cx="550.4" cy="80.9" r="2.5"/>
<circle class="r" cx="547.1" cy="84.7" r="2.5"/>
<circle class="r" cx="558.8" cy="87.0" r="2.5"/>
<circle class="r" cx="555.0" cy="91.7" r="2.5"/>
<circle class="r" cx="549.9" cy="96.3" r="2.5"/>
<circle class="r" cx="552.5" cy="100.1" r="2.5"/>
<circle class="r" cx="557.8" cy="103.8" r="2.5"/>
<circle class="r" cx="552.7" cy="105.2" r="2.5"/>
<circle class="r" cx="546.9" cy="105.2" r="2.5"/>
<circle class="r" cx="544.8" cy="107.1" r="2.5"/>
<circle class="r" cx="552.2" cy="109.9" r="2.5"/>
<circle class="r" cx="542.9" cy="112.5" r="2.5"/>
<circle class="r" cx="562.3" cy="107.1" r="2.5"/>
<circle class="r" cx="565.8" cy="105.2" r="2.5"/>
<circle class="r" cx="565.8" cy="109.9" r="2.5"/>
<circle class="r" cx="565.8" cy="112.7" r="2.5"/>
<circle class="r" cx="558.3" cy="60.9" r="2.5"/>
<circle class="r" cx="568.6" cy="57.8" r="2.5"/>
<circle class="r" cx="571.8" cy="55.7" r="2.5"/>
<circle class="r" cx="584.0" cy="56.7" r="2.5"/>
<circle class="r" cx="587.8" cy="56.7" r="2.5"/>
<circle class="r" cx="580.5" cy="65.1" r="2.5"/>
<circle class="r" cx="590.3" cy="62.7" r="2.5"/>
<circle class="r" cx="586.8" cy="71.1" r="2.5"/>
<circle class="r" cx="564.0" cy="74.6" r="2.5"/>
<circle class="r" cx="568.6" cy="71.5" r="2.5"/>
<circle class="r" cx="571.8" cy="72.5" r="2.5"/>
<circle class="r" cx="578.4" cy="72.9" r="2.5"/>
<circle class="r" cx="577.7" cy="75.7" r="2.5"/>
<circle class="r" cx="574.2" cy="77.1" r="2.5"/>
<circle class="r" cx="579.8" cy="77.7" r="2.5"/>
<circle class="r" cx="584.7" cy="78.5" r="2.5"/>
<circle class="r" cx="575.6" cy="81.3" r="2.5"/>
<circle class="r" cx="569.3" cy="83.7" r="2.5"/>
<circle class="r" cx="571.8" cy="83.0" r="2.5"/>
<circle class="r" cx="573.5" cy="86.1" r="2.5"/>
<circle class="r" cx="565.8" cy="88.4" r="2.5"/>
<circle class="r" cx="571.8" cy="89.8" r="2.5"/>
<circle class="r" cx="564.4" cy="94.2" r="2.5"/>
<circle class="r" cx="573.2" cy="94.9" r="2.5"/>
<circle class="r" cx="577.0" cy="97.7" r="2.5"/>
<circle class="r" cx="586.1" cy="87.0" r="2.5"/>
<circle class="r" cx="590.0" cy="82.7" r="2.5"/>
<circle class="r" cx="585.8" cy="108.0" r="2.5"/>
<circle class="r" cx="590.3" cy="101.9" r="2.5"/>
<circle class="r" cx="505.1" cy="110.8" r="2.5"/>
<circle class="r" cx="509.0" cy="109.0" r="2.5"/>
<circle class="r" cx="504.8" cy="123.0" r="2.5"/>
<circle class="r" cx="512.5" cy="122.0" r="2.5"/>
<circle class="r" cx="512.5" cy="128.6" r="2.5"/>
<circle class="r" cx="578.8" cy="125.8" r="2.5"/>
<circle class="r" cx="599.0" cy="34.0" r="2.5"/>
<circle class="r" cx="604.8" cy="32.3" r="2.5"/>
<circle class="r" cx="590.1" cy="39.6" r="2.5"/>
<circle class="r" cx="611.9" cy="37.9" r="2.5"/>
<circle class="r" cx="617.7" cy="37.9" r="2.5"/>
<circle class="r" cx="611.2" cy="41.7" r="2.5"/>
<circle class="r" cx="617.7" cy="41.7" r="2.5"/>
<circle class="r" cx="607.6" cy="43.8" r="2.5"/>
<circle class="r" cx="602.7" cy="43.5" r="2.5"/>
<circle class="r" cx="601.8" cy="45.9" r="2.5"/>
<circle class="r" cx="596.7" cy="43.8" r="2.5"/>
<circle class="r" cx="596.7" cy="46.9" r="2.5"/>
<circle class="r" cx="589.2" cy="46.3" r="2.5"/>
<circle class="r" cx="567.7" cy="45.9" r="2.5"/>
<circle class="r" cx="572.3" cy="45.5" r="2.5"/>
<circle class="r" cx="566.7" cy="49.4" r="2.5"/>
<circle class="r" cx="578.2" cy="49.2" r="2.5"/>
<circle class="r" cx="579.3" cy="51.5" r="2.5"/>
<circle class="r" cx="573.7" cy="52.5" r="2.5"/>
<circle class="r" cx="586.9" cy="52.2" r="2.5"/>
<circle class="r" cx="596.2" cy="50.8" r="2.5"/>
<circle class="r" cx="595.7" cy="56.2" r="2.5"/>
<circle class="r" cx="599.9" cy="53.6" r="2.5"/>
<circle class="r" cx="605.5" cy="50.1" r="2.5"/>
<circle class="r" cx="604.1" cy="57.8" r="2.5"/>
<circle class="r" cx="613.0" cy="49.4" r="2.5"/>
<circle class="r" cx="614.0" cy="52.2" r="2.5"/>
<circle class="r" cx="617.5" cy="52.5" r="2.5"/>
<circle class="r" cx="620.5" cy="53.9" r="2.5"/>
<circle class="r" cx="622.8" cy="49.4" r="2.5"/>
<circle class="r" cx="625.6" cy="53.6" r="2.5"/>
<circle class="r" cx="628.0" cy="36.8" r="2.5"/>
<circle class="r" cx="625.9" cy="40.3" r="2.5"/>
<circle class="r" cx="630.1" cy="39.6" r="2.5"/>
<circle class="r" cx="632.2" cy="39.6" r="2.5"/>
<circle class="r" cx="624.5" cy="42.4" r="2.5"/>
<circle class="r" cx="627.3" cy="44.9" r="2.5"/>
<circle class="r" cx="634.0" cy="48.0" r="2.5"/>
<circle class="r" cx="636.4" cy="51.5" r="2.5"/>
<circle class="r" cx="641.0" cy="53.4" r="2.5"/>
<circle class="r" cx="630.4" cy="59.9" r="2.5"/>
<circle class="r" cx="640.6" cy="60.9" r="2.5"/>
<circle class="r" cx="643.8" cy="62.7" r="2.5"/>
<circle class="r" cx="646.9" cy="65.1" r="2.5"/>
<circle class="r" cx="648.3" cy="68.4" r="2.5"/>
<circle class="r" cx="647.6" cy="72.6" r="2.5"/>
<circle class="r" cx="646.2" cy="75.4" r="2.5"/>
<circle class="r" cx="642.7" cy="77.5" r="2.5"/>
<circle class="r" cx="637.8" cy="73.0" r="2.5"/>
<circle class="r" cx="628.7" cy="66.2" r="2.5"/>
<circle class="r" cx="628.4" cy="71.2" r="2.5"/>
<circle class="r" cx="611.9" cy="66.0" r="2.5"/>
<circle class="r" cx="616.8" cy="69.1" r="2.5"/>
<circle class="r" cx="621.7" cy="70.5" r="2.5"/>
<circle class="r" cx="622.8" cy="70.2" r="2.5"/>
<circle class="r" cx="621.4" cy="74.0" r="2.5"/>
<circle class="r" cx="623.8" cy="78.6" r="2.5"/>
<circle class="r" cx="628.4" cy="77.7" r="2.5"/>
<circle class="r" cx="632.2" cy="81.0" r="2.5"/>
<circle class="r" cx="635.4" cy="80.5" r="2.5"/>
<circle class="r" cx="645.8" cy="81.7" r="2.5"/>
<circle class="r" cx="651.8" cy="80.3" r="2.5"/>
<circle class="r" cx="652.2" cy="84.5" r="2.5"/>
<circle class="r" cx="655.3" cy="88.7" r="2.5"/>
<circle class="r" cx="594.8" cy="67.6" r="2.5"/>
<circle class="r" cx="599.0" cy="69.8" r="2.5"/>
<circle class="r" cx="599.0" cy="78.2" r="2.5"/>
<circle class="r" cx="599.9" cy="83.1" r="2.5"/>
<circle class="r" cx="601.8" cy="88.4" r="2.5"/>
<circle class="r" cx="603.7" cy="87.6" r="2.5"/>
<circle class="r" cx="594.3" cy="89.4" r="2.5"/>
<circle class="r" cx="596.7" cy="92.2" r="2.5"/>
<circle class="r" cx="595.0" cy="96.8" r="2.5"/>
<circle class="r" cx="604.8" cy="95.7" r="2.5"/>
<circle class="r" cx="611.9" cy="84.5" r="2.5"/>
<circle class="r" cx="616.8" cy="81.7" r="2.5"/>
<circle class="r" cx="617.7" cy="84.7" r="2.5"/>
<circle class="r" cx="621.7" cy="85.6" r="2.5"/>
<circle class="r" cx="610.7" cy="93.2" r="2.5"/>
<circle class="r" cx="615.8" cy="94.0" r="2.5"/>
<circle class="r" cx="619.6" cy="92.6" r="2.5"/>
<circle class="r" cx="624.7" cy="92.2" r="2.5"/>
<circle class="r" cx="634.3" cy="87.6" r="2.5"/>
<circle class="r" cx="643.0" cy="88.0" r="2.5"/>
<circle class="r" cx="645.8" cy="87.6" r="2.5"/>
<circle class="r" cx="641.0" cy="93.2" r="2.5"/>
<circle class="r" cx="644.8" cy="95.7" r="2.5"/>
<circle class="r" cx="650.8" cy="92.2" r="2.5"/>
<circle class="r" cx="655.3" cy="93.6" r="2.5"/>
<circle class="r" cx="615.4" cy="97.8" r="2.5"/>
<circle class="r" cx="628.7" cy="97.8" r="2.5"/>
<circle class="r" cx="631.5" cy="98.5" r="2.5"/>
<circle class="r" cx="649.7" cy="97.8" r="2.5"/>
<circle class="r" cx="592.5" cy="102.3" r="2.5"/>
<circle class="r" cx="603.7" cy="100.5" r="2.5"/>
<circle class="r" cx="613.9" cy="101.2" r="2.5"/>
<circle class="r" cx="599.1" cy="104.7" r="2.5"/>
<circle class="r" cx="606.9" cy="105.7" r="2.5"/>
<circle class="r" cx="610.3" cy="106.8" r="2.5"/>
<circle class="r" cx="614.2" cy="108.5" r="2.5"/>
<circle class="r" cx="616.3" cy="111.7" r="2.5"/>
<circle class="r" cx="601.3" cy="111.7" r="2.5"/>
<circle class="r" cx="622.6" cy="110.3" r="2.5"/>
<circle class="r" cx="622.9" cy="99.8" r="2.5"/>
<circle class="r" cx="626.1" cy="101.9" r="2.5"/>
<circle class="r" cx="631.0" cy="104.0" r="2.5"/>
<circle class="r" cx="630.3" cy="110.7" r="2.5"/>
<circle class="r" cx="635.9" cy="106.1" r="2.5"/>
<circle class="r" cx="637.4" cy="102.9" r="2.5"/>
<circle class="r" cx="636.6" cy="112.1" r="2.5"/>
<circle class="r" cx="639.7" cy="114.5" r="2.5"/>
<circle class="r" cx="641.1" cy="109.6" r="2.5"/>
<circle class="r" cx="643.4" cy="107.1" r="2.5"/>
<circle class="r" cx="644.4" cy="100.9" r="2.5"/>
<circle class="r" cx="646.5" cy="101.9" r="2.5"/>
<circle class="r" cx="658.8" cy="96.7" r="2.5"/>
<circle class="r" cx="654.9" cy="95.6" r="2.5"/>
<circle class="r" cx="648.1" cy="110.7" r="2.5"/>
<circle class="r" cx="657.4" cy="111.7" r="2.5"/>
<circle class="r" cx="663.3" cy="103.7" r="2.5"/>
<circle class="r" cx="663.3" cy="107.9" r="2.5"/>
<circle class="r" cx="663.0" cy="111.7" r="2.5"/>
<circle class="r" cx="665.4" cy="115.2" r="2.5"/>
<circle class="r" cx="645.8" cy="116.9" r="2.5"/>
<circle class="r" cx="649.3" cy="116.6" r="2.5"/>
<circle class="r" cx="652.8" cy="116.9" r="2.5"/>
<circle class="r" cx="654.2" cy="120.1" r="2.5"/>
<circle class="r" cx="602.3" cy="120.1" r="2.5"/>
<circle class="r" cx="612.1" cy="119.7" r="2.5"/>
<circle class="r" cx="612.5" cy="123.6" r="2.5"/>
<circle class="r" cx="619.6" cy="118.0" r="2.5"/>
<circle class="r" cx="626.6" cy="117.3" r="2.5"/>
<circle class="r" cx="630.8" cy="120.1" r="2.5"/>
<circle class="r" cx="634.1" cy="119.7" r="2.5"/>
<circle class="r" cx="621.2" cy="123.4" r="2.5"/>
<circle class="r" cx="625.2" cy="124.3" r="2.5"/>
<circle class="r" cx="621.0" cy="126.7" r="2.5"/>
<circle class="r" cx="630.3" cy="126.7" r="2.5"/>
<circle class="r" cx="637.8" cy="124.8" r="2.5"/>
<circle class="r" cx="641.6" cy="122.5" r="2.5"/>
<circle class="r" cx="640.9" cy="127.8" r="2.5"/>
<circle class="r" cx="645.8" cy="127.6" r="2.5"/>
<circle class="r" cx="616.7" cy="130.9" r="2.5"/>
<circle class="r" cx="623.8" cy="130.9" r="2.5"/>
<circle class="r" cx="625.4" cy="135.5" r="2.5"/>
<circle class="r" cx="633.1" cy="131.8" r="2.5"/>
<circle class="r" cx="636.4" cy="132.3" r="2.5"/>
<circle class="r" cx="635.9" cy="136.5" r="2.5"/>
<circle class="r" cx="610.3" cy="136.9" r="2.5"/>
<circle class="r" cx="661.2" cy="132.0" r="2.5"/>
<circle class="r" cx="657.4" cy="136.9" r="2.5"/>
<circle class="r" cx="659.1" cy="138.4" r="2.5"/>
<circle class="r" cx="661.6" cy="138.4" r="2.5"/>
<circle class="r" cx="658.8" cy="141.6" r="2.5"/>
<circle class="r" cx="654.2" cy="143.5" r="2.5"/>
<circle class="r" cx="659.1" cy="146.8" r="2.5"/>
<circle class="r" cx="649.0" cy="138.4" r="2.5"/>
<circle class="r" cx="643.9" cy="139.8" r="2.5"/>
<circle class="r" cx="639.2" cy="143.5" r="2.5"/>
<circle class="r" cx="643.0" cy="147.7" r="2.5"/>
<circle class="r" cx="644.4" cy="154.2" r="2.5"/>
<circle class="r" cx="645.8" cy="157.0" r="2.5"/>
<circle class="r" cx="595.3" cy="140.5" r="2.5"/>
<circle class="r" cx="598.8" cy="143.0" r="2.5"/>
<circle class="r" cx="603.0" cy="146.8" r="2.5"/>
<circle class="r" cx="605.1" cy="151.7" r="2.5"/>
<circle class="r" cx="597.4" cy="155.6" r="2.5"/>
<circle class="r" cx="604.1" cy="157.3" r="2.5"/>
<circle class="r" cx="610.7" cy="158.7" r="2.5"/>
<circle class="r" cx="612.5" cy="159.4" r="2.5"/>
<circle class="r" cx="613.5" cy="147.2" r="2.5"/>
<circle class="r" cx="621.2" cy="148.6" r="2.5"/>
<circle class="r" cx="621.0" cy="152.4" r="2.5"/>
<circle class="r" cx="627.5" cy="150.3" r="2.5"/>
<circle class="r" cx="632.7" cy="146.1" r="2.5"/>
<circle class="r" cx="614.2" cy="166.0" r="2.5"/>
<circle class="r" cx="645.8" cy="163.2" r="2.5"/>
<circle class="r" cx="649.5" cy="163.6" r="2.5"/>
<circle class="r" cx="643.9" cy="165.7" r="2.5"/>
<circle class="r" cx="638.8" cy="168.2" r="2.5"/>
<circle class="r" cx="643.9" cy="167.7" r="2.5"/>
<circle class="r" cx="606.1" cy="178.9" r="2.5"/>
<circle class="r" cx="593.2" cy="181.7" r="2.5"/>
<circle class="r" cx="600.9" cy="187.7" r="2.5"/>
<circle class="r" cx="601.9" cy="192.9" r="2.5"/>
<circle class="r" cx="599.1" cy="196.2" r="2.5"/>
<circle class="r" cx="597.4" cy="207.6" r="2.5"/>
<circle class="r" cx="509.0" cy="78.2" r="2.5"/>
<circle class="r" cx="657.2" cy="92.9" r="2.5"/>
<circle class="b" cx="459.4" cy="99.2" r="2.5"/>
<circle class="b" cx="459.8" cy="103.4" r="2.5"/>
<circle class="b" cx="468.7" cy="102.3" r="2.5"/>
<circle class="b" cx="465.0" cy="106.0" r="2.5"/>
<circle class="b" cx="470.6" cy="107.6" r="2.5"/>
<circle class="b" cx="474.8" cy="110.7" r="2.5"/>
<circle class="b" cx="471.6" cy="112.1" r="2.5"/>
<circle class="b" cx="491.6" cy="105.1" r="2.5"/>
<circle class="b" cx="495.8" cy="111.6" r="2.5"/>
<circle class="b" cx="483.2" cy="129.8" r="2.5"/>
<circle class="b" cx="488.8" cy="128.4" r="2.5"/>
<circle class="b" cx="496.2" cy="127.0" r="2.5"/>
<circle class="b" cx="496.5" cy="131.8" r="2.5"/>
<circle class="b" cx="475.8" cy="136.4" r="2.5"/>
<circle class="b" cx="473.4" cy="139.2" r="2.5"/>
<circle class="b" cx="494.8" cy="136.8" r="2.5"/>
<circle class="b" cx="497.6" cy="138.5" r="2.5"/>
<circle class="b" cx="477.6" cy="140.5" r="2.5"/>
<circle class="b" cx="475.2" cy="147.5" r="2.5"/>
<circle class="b" cx="480.8" cy="149.6" r="2.5"/>
<circle class="b" cx="475.5" cy="151.0" r="2.5"/>
<circle class="b" cx="473.4" cy="155.5" r="2.5"/>
<circle class="b" cx="476.9" cy="154.1" r="2.5"/>
<circle class="b" cx="480.8" cy="153.5" r="2.5"/>
<circle class="b" cx="476.9" cy="159.7" r="2.5"/>
<circle class="b" cx="476.2" cy="165.0" r="2.5"/>
<circle class="b" cx="477.2" cy="170.4" r="2.5"/>
<circle class="b" cx="474.8" cy="174.6" r="2.5"/>
<circle class="b" cx="472.4" cy="176.0" r="2.5"/>
<circle class="b" cx="492.6" cy="163.4" r="2.5"/>
<circle class="b" cx="495.1" cy="166.4" r="2.5"/>
<circle class="b" cx="491.6" cy="173.2" r="2.5"/>
<circle class="b" cx="495.8" cy="172.0" r="2.5"/>
<circle class="b" cx="486.0" cy="180.7" r="2.5"/>
<circle class="b" cx="492.0" cy="179.3" r="2.5"/>
<circle class="b" cx="481.8" cy="183.5" r="2.5"/>
<circle class="b" cx="483.2" cy="185.8" r="2.5"/>
<circle class="b" cx="489.8" cy="184.4" r="2.5"/>
<circle class="b" cx="492.0" cy="186.3" r="2.5"/>
<circle class="b" cx="497.2" cy="184.7" r="2.5"/>
<circle class="b" cx="499.3" cy="179.8" r="2.5"/>
<circle class="b" cx="479.4" cy="191.7" r="2.5"/>
<circle class="b" cx="491.2" cy="192.8" r="2.5"/>
<circle class="b" cx="490.2" cy="197.0" r="2.5"/>
<circle class="b" cx="499.3" cy="193.8" r="2.5"/>
<circle class="b" cx="432.7" cy="193.3" r="2.5"/>
<circle class="b" cx="430.3" cy="197.6" r="2.5"/>
<circle class="b" cx="421.9" cy="198.7" r="2.5"/>
<circle class="b" cx="416.9" cy="199.8" r="2.5"/>
<circle class="b" cx="421.1" cy="202.6" r="2.5"/>
<circle class="b" cx="435.5" cy="204.0" r="2.5"/>
<circle class="b" cx="431.3" cy="207.1" r="2.5"/>
<circle class="b" cx="426.1" cy="208.5" r="2.5"/>
<circle class="b" cx="437.9" cy="208.5" r="2.5"/>
<circle class="b" cx="452.4" cy="198.0" r="2.5"/>
<circle class="b" cx="451.4" cy="201.5" r="2.5"/>
<circle class="b" cx="449.5" cy="202.2" r="2.5"/>
<circle class="b" cx="428.1" cy="210.9" r="2.5"/>
<circle class="b" cx="426.7" cy="214.0" r="2.5"/>
<circle class="b" cx="430.6" cy="214.7" r="2.5"/>
<circle class="b" cx="434.6" cy="213.3" r="2.5"/>
<circle class="b" cx="437.6" cy="213.7" r="2.5"/>
<circle class="b" cx="440.7" cy="212.9" r="2.5"/>
<circle class="b" cx="441.1" cy="216.1" r="2.5"/>
<circle class="b" cx="445.8" cy="212.3" r="2.5"/>
<circle class="b" cx="435.1" cy="217.1" r="2.5"/>
<circle class="b" cx="423.6" cy="218.9" r="2.5"/>
<circle class="b" cx="428.5" cy="219.3" r="2.5"/>
<circle class="b" cx="432.0" cy="218.2" r="2.5"/>
<circle class="b" cx="436.5" cy="220.3" r="2.5"/>
<circle class="b" cx="439.7" cy="223.1" r="2.5"/>
<circle class="b" cx="427.1" cy="222.4" r="2.5"/>
<circle class="b" cx="431.7" cy="222.4" r="2.5"/>
<circle class="b" cx="434.8" cy="224.5" r="2.5"/>
<circle class="b" cx="438.3" cy="225.9" r="2.5"/>
<circle class="b" cx="428.1" cy="225.9" r="2.5"/>
<circle class="b" cx="433.2" cy="227.3" r="2.5"/>
<circle class="b" cx="436.9" cy="229.7" r="2.5"/>
<circle class="b" cx="431.3" cy="231.1" r="2.5"/>
<circle class="b" cx="440.2" cy="235.7" r="2.5"/>
<circle class="b" cx="445.8" cy="231.5" r="2.5"/>
<circle class="b" cx="445.8" cy="237.8" r="2.5"/>
<circle class="b" cx="445.8" cy="242.3" r="2.5"/>
<circle class="b" cx="448.6" cy="224.9" r="2.5"/>
<circle class="b" cx="451.9" cy="228.7" r="2.5"/>
<circle class="b" cx="457.0" cy="223.5" r="2.5"/>
<circle class="b" cx="450.9" cy="232.5" r="2.5"/>
<circle class="b" cx="454.7" cy="232.5" r="2.5"/>
<circle class="b" cx="453.1" cy="235.0" r="2.5"/>
<circle class="b" cx="461.2" cy="228.7" r="2.5"/>
<circle class="b" cx="466.8" cy="232.0" r="2.5"/>
<circle class="b" cx="463.1" cy="234.8" r="2.5"/>
<circle class="b" cx="461.7" cy="239.0" r="2.5"/>
<circle class="b" cx="453.8" cy="242.0" r="2.5"/>
<circle class="b" cx="451.9" cy="244.6" r="2.5"/>
<circle class="b" cx="456.1" cy="246.9" r="2.5"/>
<circle class="b" cx="448.8" cy="248.8" r="2.5"/>
<circle class="b" cx="453.8" cy="249.1" r="2.5"/>
<circle class="b" cx="450.9" cy="252.6" r="2.5"/>
<circle class="b" cx="454.7" cy="252.6" r="2.5"/>
<circle class="b" cx="454.7" cy="256.1" r="2.5"/>
<circle class="b" cx="461.7" cy="246.0" r="2.5"/>
<circle class="b" cx="462.9" cy="248.4" r="2.5"/>
<circle class="b" cx="464.0" cy="252.6" r="2.5"/>
<circle class="b" cx="465.9" cy="243.7" r="2.5"/>
<circle class="b" cx="469.2" cy="243.7" r="2.5"/>
<circle class="b" cx="472.4" cy="244.6" r="2.5"/>
<circle class="b" cx="476.6" cy="248.4" r="2.5"/>
<circle class="b" cx="472.7" cy="250.7" r="2.5"/>
<circle class="b" cx="472.0" cy="253.0" r="2.5"/>
<circle class="b" cx="477.2" cy="253.3" r="2.5"/>
<circle class="b" cx="467.8" cy="256.3" r="2.5"/>
<circle class="b" cx="458.9" cy="261.0" r="2.5"/>
<circle class="b" cx="461.7" cy="264.5" r="2.5"/>
<circle class="b" cx="464.0" cy="261.7" r="2.5"/>
<circle class="b" cx="467.3" cy="261.7" r="2.5"/>
<circle class="b" cx="470.6" cy="264.5" r="2.5"/>
<circle class="b" cx="475.8" cy="260.0" r="2.5"/>
<circle class="b" cx="474.8" cy="265.9" r="2.5"/>
<circle class="b" cx="479.7" cy="261.0" r="2.5"/>
<circle class="b" cx="478.6" cy="267.0" r="2.5"/>
<circle class="b" cx="482.8" cy="254.7" r="2.5"/>
<circle class="b" cx="486.0" cy="255.8" r="2.5"/>
<circle class="b" cx="490.2" cy="257.5" r="2.5"/>
<circle class="b" cx="482.5" cy="259.6" r="2.5"/>
<circle class="b" cx="486.7" cy="261.7" r="2.5"/>
<circle class="b" cx="490.9" cy="263.8" r="2.5"/>
<circle class="b" cx="493.0" cy="252.6" r="2.5"/>
<circle class="b" cx="496.8" cy="256.8" r="2.5"/>
<circle class="b" cx="463.6" cy="269.8" r="2.5"/>
<circle class="b" cx="472.0" cy="269.8" r="2.5"/>
<circle class="b" cx="483.6" cy="268.0" r="2.5"/>
<circle class="b" cx="485.0" cy="271.5" r="2.5"/>
<circle class="b" cx="489.2" cy="272.6" r="2.5"/>
<circle class="b" cx="495.4" cy="268.7" r="2.5"/>
<circle class="b" cx="498.6" cy="265.9" r="2.5"/>
<circle class="b" cx="499.3" cy="270.1" r="2.5"/>
<circle class="b" cx="480.8" cy="224.9" r="2.5"/>
<circle class="b" cx="479.0" cy="229.2" r="2.5"/>
<circle class="b" cx="486.0" cy="235.7" r="2.5"/>
<circle class="b" cx="486.0" cy="238.5" r="2.5"/>
<circle class="b" cx="480.4" cy="240.9" r="2.5"/>
<circle class="b" cx="484.2" cy="245.1" r="2.5"/>
<circle class="b" cx="470.1" cy="276.4" r="2.5"/>
<circle class="b" cx="473.0" cy="279.6" r="2.5"/>
<circle class="b" cx="476.6" cy="274.0" r="2.5"/>
<circle class="b" cx="476.9" cy="275.7" r="2.5"/>
<circle class="b" cx="480.8" cy="280.2" r="2.5"/>
<circle class="b" cx="505.9" cy="224.1" r="2.5"/>
<circle class="b" cx="518.1" cy="200.0" r="2.5"/>
<circle class="b" cx="531.7" cy="203.5" r="2.5"/>
<circle class="b" cx="525.6" cy="206.3" r="2.5"/>
<circle class="b" cx="527.2" cy="206.7" r="2.5"/>
<circle class="b" cx="535.4" cy="210.1" r="2.5"/>
<circle class="b" cx="543.8" cy="202.5" r="2.5"/>
<circle class="b" cx="549.0" cy="201.4" r="2.5"/>
<circle class="b" cx="552.2" cy="202.1" r="2.5"/>
<circle class="b" cx="549.0" cy="207.7" r="2.5"/>
<circle class="b" cx="542.6" cy="208.1" r="2.5"/>
<circle class="b" cx="542.4" cy="213.3" r="2.5"/>
<circle class="b" cx="545.7" cy="212.3" r="2.5"/>
<circle class="b" cx="549.0" cy="214.3" r="2.5"/>
<circle class="b" cx="565.1" cy="204.9" r="2.5"/>
<circle class="b" cx="584.0" cy="203.5" r="2.5"/>
<circle class="b" cx="576.0" cy="207.0" r="2.5"/>
<circle class="b" cx="575.2" cy="208.7" r="2.5"/>
<circle class="b" cx="578.0" cy="210.9" r="2.5"/>
<circle class="b" cx="590.3" cy="209.1" r="2.5"/>
<circle class="b" cx="559.7" cy="213.3" r="2.5"/>
<circle class="b" cx="572.4" cy="213.7" r="2.5"/>
<circle class="b" cx="583.6" cy="213.3" r="2.5"/>
<circle class="b" cx="586.8" cy="217.1" r="2.5"/>
<circle class="b" cx="574.2" cy="216.8" r="2.5"/>
<circle class="b" cx="515.7" cy="216.1" r="2.5"/>
<circle class="b" cx="518.8" cy="217.1" r="2.5"/>
<circle class="b" cx="529.3" cy="214.3" r="2.5"/>
<circle class="b" cx="531.7" cy="216.1" r="2.5"/>
<circle class="b" cx="549.4" cy="220.7" r="2.5"/>
<circle class="b" cx="552.7" cy="219.6" r="2.5"/>
<circle class="b" cx="560.2" cy="216.8" r="2.5"/>
<circle class="b" cx="563.7" cy="216.5" r="2.5"/>
<circle class="b" cx="562.0" cy="220.3" r="2.5"/>
<circle class="b" cx="566.8" cy="218.5" r="2.5"/>
<circle class="b" cx="560.9" cy="225.2" r="2.5"/>
<circle class="b" cx="569.0" cy="223.1" r="2.5"/>
<circle class="b" cx="570.7" cy="226.3" r="2.5"/>
<circle class="b" cx="577.0" cy="223.5" r="2.5"/>
<circle class="b" cx="580.8" cy="225.5" r="2.5"/>
<circle class="b" cx="573.5" cy="229.2" r="2.5"/>
<circle class="b" cx="585.0" cy="229.7" r="2.5"/>
<circle class="b" cx="589.2" cy="227.7" r="2.5"/>
<circle class="b" cx="525.6" cy="222.1" r="2.5"/>
<circle class="b" cx="533.1" cy="221.3" r="2.5"/>
<circle class="b" cx="520.2" cy="224.5" r="2.5"/>
<circle class="b" cx="523.7" cy="227.3" r="2.5"/>
<circle class="b" cx="527.0" cy="225.9" r="2.5"/>
<circle class="b" cx="527.5" cy="230.1" r="2.5"/>
<circle class="b" cx="530.7" cy="229.4" r="2.5"/>
<circle class="b" cx="535.4" cy="226.6" r="2.5"/>
<circle class="b" cx="537.3" cy="230.1" r="2.5"/>
<circle class="b" cx="551.1" cy="226.6" r="2.5"/>
<circle class="b" cx="511.8" cy="232.0" r="2.5"/>
<circle class="b" cx="510.7" cy="235.7" r="2.5"/>
<circle class="b" cx="524.2" cy="236.7" r="2.5"/>
<circle class="b" cx="530.7" cy="237.6" r="2.5"/>
<circle class="b" cx="512.9" cy="240.9" r="2.5"/>
<circle class="b" cx="516.7" cy="240.9" r="2.5"/>
<circle class="b" cx="515.3" cy="244.6" r="2.5"/>
<circle class="b" cx="523.0" cy="243.4" r="2.5"/>
<circle class="b" cx="530.0" cy="243.7" r="2.5"/>
<circle class="b" cx="538.7" cy="243.2" r="2.5"/>
<circle class="b" cx="541.2" cy="242.7" r="2.5"/>
<circle class="b" cx="546.9" cy="236.7" r="2.5"/>
<circle class="b" cx="551.1" cy="238.5" r="2.5"/>
<circle class="b" cx="555.0" cy="232.5" r="2.5"/>
<circle class="b" cx="554.6" cy="235.7" r="2.5"/>
<circle class="b" cx="555.5" cy="240.9" r="2.5"/>
<circle class="b" cx="566.2" cy="234.8" r="2.5"/>
<circle class="b" cx="570.7" cy="234.3" r="2.5"/>
<circle class="b" cx="573.8" cy="238.1" r="2.5"/>
<circle class="b" cx="565.1" cy="239.5" r="2.5"/>
<circle class="b" cx="567.9" cy="240.4" r="2.5"/>
<circle class="b" cx="571.4" cy="240.9" r="2.5"/>
<circle class="b" cx="580.8" cy="233.9" r="2.5"/>
<circle class="b" cx="579.8" cy="237.6" r="2.5"/>
<circle class="b" cx="586.8" cy="232.5" r="2.5"/>
<circle class="b" cx="590.0" cy="238.1" r="2.5"/>
<circle class="b" cx="586.1" cy="240.6" r="2.5"/>
<circle class="b" cx="581.6" cy="241.3" r="2.5"/>
<circle class="b" cx="549.4" cy="244.6" r="2.5"/>
<circle class="b" cx="548.3" cy="248.8" r="2.5"/>
<circle class="b" cx="557.8" cy="249.1" r="2.5"/>
<circle class="b" cx="562.3" cy="244.6" r="2.5"/>
<circle class="b" cx="569.3" cy="247.4" r="2.5"/>
<circle class="b" cx="572.4" cy="249.3" r="2.5"/>
<circle class="b" cx="574.2" cy="245.5" r="2.5"/>
<circle class="b" cx="579.8" cy="244.1" r="2.5"/>
<circle class="b" cx="585.0" cy="246.0" r="2.5"/>
<circle class="b" cx="568.6" cy="254.0" r="2.5"/>
<circle class="b" cx="578.8" cy="253.0" r="2.5"/>
<circle class="b" cx="582.2" cy="251.2" r="2.5"/>
<circle class="b" cx="519.5" cy="254.7" r="2.5"/>
<circle class="b" cx="526.5" cy="254.0" r="2.5"/>
<circle class="b" cx="530.7" cy="251.9" r="2.5"/>
<circle class="b" cx="538.7" cy="253.0" r="2.5"/>
<circle class="b" cx="517.7" cy="257.7" r="2.5"/>
<circle class="b" cx="521.6" cy="257.7" r="2.5"/>
<circle class="b" cx="531.2" cy="256.8" r="2.5"/>
<circle class="b" cx="529.8" cy="259.6" r="2.5"/>
<circle class="b" cx="511.8" cy="260.3" r="2.5"/>
<circle class="b" cx="519.5" cy="262.8" r="2.5"/>
<circle class="b" cx="512.5" cy="264.2" r="2.5"/>
<circle class="b" cx="505.5" cy="263.8" r="2.5"/>
<circle class="b" cx="502.7" cy="265.6" r="2.5"/>
<circle class="b" cx="505.9" cy="269.4" r="2.5"/>
<circle class="b" cx="515.7" cy="265.6" r="2.5"/>
<circle class="b" cx="521.3" cy="265.9" r="2.5"/>
<circle class="b" cx="527.0" cy="265.9" r="2.5"/>
<circle class="b" cx="514.3" cy="269.0" r="2.5"/>
<circle class="b" cx="520.2" cy="270.1" r="2.5"/>
<circle class="b" cx="510.1" cy="273.6" r="2.5"/>
<circle class="b" cx="514.6" cy="275.0" r="2.5"/>
<circle class="b" cx="519.5" cy="274.3" r="2.5"/>
<circle class="b" cx="523.0" cy="275.7" r="2.5"/>
<circle class="b" cx="527.9" cy="271.2" r="2.5"/>
<circle class="b" cx="532.6" cy="270.1" r="2.5"/>
<circle class="b" cx="535.6" cy="269.0" r="2.5"/>
<circle class="b" cx="541.2" cy="268.4" r="2.5"/>
<circle class="b" cx="537.3" cy="261.0" r="2.5"/>
<circle class="b" cx="543.4" cy="263.3" r="2.5"/>
<circle class="b" cx="547.1" cy="261.7" r="2.5"/>
<circle class="b" cx="547.6" cy="268.0" r="2.5"/>
<circle class="b" cx="506.2" cy="134.5" r="2.5"/>
<circle class="b" cx="499.2" cy="131.1" r="2.5"/>
<circle class="b" cx="502.7" cy="141.5" r="2.5"/>
<circle class="b" cx="503.7" cy="145.1" r="2.5"/>
<circle class="b" cx="522.3" cy="142.3" r="2.5"/>
<circle class="b" cx="511.5" cy="147.5" r="2.5"/>
<circle class="b" cx="550.8" cy="140.9" r="2.5"/>
<circle class="b" cx="544.3" cy="153.1" r="2.5"/>
<circle class="b" cx="570.0" cy="144.0" r="2.5"/>
<circle class="b" cx="577.7" cy="139.5" r="2.5"/>
<circle class="b" cx="511.5" cy="157.7" r="2.5"/>
<circle class="b" cx="527.2" cy="159.7" r="2.5"/>
<circle class="b" cx="512.1" cy="164.3" r="2.5"/>
<circle class="b" cx="517.7" cy="167.8" r="2.5"/>
<circle class="b" cx="500.9" cy="170.4" r="2.5"/>
<circle class="b" cx="520.5" cy="174.6" r="2.5"/>
<circle class="b" cx="513.9" cy="176.5" r="2.5"/>
<circle class="b" cx="510.7" cy="179.1" r="2.5"/>
<circle class="b" cx="503.7" cy="180.5" r="2.5"/>
<circle class="b" cx="500.9" cy="186.8" r="2.5"/>
<circle class="b" cx="506.9" cy="188.2" r="2.5"/>
<circle class="b" cx="511.8" cy="189.1" r="2.5"/>
<circle class="b" cx="506.2" cy="192.4" r="2.5"/>
<circle class="b" cx="508.3" cy="195.9" r="2.5"/>
<circle class="b" cx="533.5" cy="174.1" r="2.5"/>
<circle class="b" cx="535.6" cy="177.6" r="2.5"/>
<circle class="b" cx="539.8" cy="179.8" r="2.5"/>
<circle class="b" cx="529.8" cy="179.8" r="2.5"/>
<circle class="b" cx="525.8" cy="182.6" r="2.5"/>
<circle class="b" cx="523.0" cy="189.6" r="2.5"/>
<circle class="b" cx="521.9" cy="194.5" r="2.5"/>
<circle class="b" cx="549.9" cy="172.7" r="2.5"/>
<circle class="b" cx="549.7" cy="176.9" r="2.5"/>
<circle class="b" cx="549.7" cy="180.2" r="2.5"/>
<circle class="b" cx="549.0" cy="183.0" r="2.5"/>
<circle class="b" cx="548.3" cy="186.8" r="2.5"/>
<circle class="b" cx="545.2" cy="193.1" r="2.5"/>
<circle class="b" cx="570.0" cy="170.6" r="2.5"/>
<circle class="b" cx="569.3" cy="176.2" r="2.5"/>
<circle class="b" cx="581.9" cy="174.6" r="2.5"/>
<circle class="b" cx="577.0" cy="178.4" r="2.5"/>
<circle class="b" cx="565.1" cy="184.9" r="2.5"/>
<circle class="b" cx="569.6" cy="183.3" r="2.5"/>
<circle class="b" cx="573.2" cy="183.0" r="2.5"/>
<circle class="b" cx="556.7" cy="198.7" r="2.5"/>
<circle class="b" cx="576.0" cy="194.7" r="2.5"/>
<circle class="b" cx="580.8" cy="195.9" r="2.5"/>
<circle class="b" cx="503.1" cy="73.6" r="2.5"/>
<circle class="b" cx="586.1" cy="83.7" r="2.5"/>
<circle class="b" cx="512.5" cy="119.7" r="2.5"/>
<circle class="b" cx="615.4" cy="36.1" r="2.5"/>
<circle class="b" cx="666.8" cy="102.9" r="2.5"/>
<circle class="b" cx="670.0" cy="105.7" r="2.5"/>
<circle class="b" cx="672.0" cy="108.9" r="2.5"/>
<circle class="b" cx="667.8" cy="111.7" r="2.5"/>
<circle class="b" cx="658.8" cy="118.3" r="2.5"/>
<circle class="b" cx="602.7" cy="107.9" r="2.5"/>
<circle class="b" cx="613.9" cy="136.2" r="2.5"/>
<circle class="b" cx="621.2" cy="134.6" r="2.5"/>
<circle class="b" cx="648.1" cy="151.9" r="2.5"/>
<circle class="b" cx="651.8" cy="155.6" r="2.5"/>
<circle class="b" cx="652.8" cy="167.8" r="2.5"/>
<circle class="b" cx="649.0" cy="169.2" r="2.5"/>
<circle class="b" cx="643.7" cy="173.7" r="2.5"/>
<circle class="b" cx="649.3" cy="175.7" r="2.5"/>
<circle class="b" cx="606.9" cy="200.4" r="2.5"/>
<circle class="b" cx="598.5" cy="202.0" r="2.5"/>
<circle class="b" cx="595.3" cy="210.7" r="2.5"/>
<circle class="b" cx="593.9" cy="211.9" r="2.5"/>
<circle class="b" cx="592.5" cy="236.4" r="2.5"/>
</g>
<rect x="404.5" y="19.8" width="279.9" height="272.7" fill="none" stroke="#333" stroke-width="0.85"/>
<line x1="440.30" y1="292.5" x2="440.30" y2="295.5" stroke="#444" stroke-width="0.8"/>
<rect x="432.04" y="301.42" width="3.9" height="0.95" fill="#1c1c1c"/>
<text transform="translate(438.34,304.95) scale(1.0400,1)" font-size="8.7" fill="#1c1c1c">30</text>
<line x1="476.90" y1="292.5" x2="476.90" y2="295.5" stroke="#444" stroke-width="0.8"/>
<rect x="468.64" y="301.42" width="3.9" height="0.95" fill="#1c1c1c"/>
<text transform="translate(474.94,304.95) scale(1.0400,1)" font-size="8.7" fill="#1c1c1c">20</text>
<line x1="513.50" y1="292.5" x2="513.50" y2="295.5" stroke="#444" stroke-width="0.8"/>
<rect x="505.24" y="301.42" width="3.9" height="0.95" fill="#1c1c1c"/>
<path transform="translate(511.54,304.95) scale(0.00905,-0.00870)" d="M372.6 0L284.7 0L284.7 560Q235 512 117.2 456L117.2 541Q212 588 258 640Q289 678 299.3 716L372.6 716Z" fill="#1c1c1c" stroke="#1c1c1c" stroke-width="0.22" vector-effect="non-scaling-stroke"/>
<text transform="translate(516.58,304.95) scale(1.0400,1)" font-size="8.7" fill="#1c1c1c">0</text>
<line x1="550.10" y1="292.5" x2="550.10" y2="295.5" stroke="#444" stroke-width="0.8"/>
<text transform="translate(547.33,304.95) scale(1.0400,1)" font-size="8.7" fill="#1c1c1c">0</text>
<line x1="586.70" y1="292.5" x2="586.70" y2="295.5" stroke="#444" stroke-width="0.8"/>
<path transform="translate(581.06,304.95) scale(0.00905,-0.00870)" d="M372.6 0L284.7 0L284.7 560Q235 512 117.2 456L117.2 541Q212 588 258 640Q289 678 299.3 716L372.6 716Z" fill="#1c1c1c" stroke="#1c1c1c" stroke-width="0.22" vector-effect="non-scaling-stroke"/>
<text transform="translate(586.10,304.95) scale(1.0400,1)" font-size="8.7" fill="#1c1c1c">0</text>
<line x1="623.30" y1="292.5" x2="623.30" y2="295.5" stroke="#444" stroke-width="0.8"/>
<text transform="translate(617.97,304.95) scale(1.0400,1)" font-size="8.7" fill="#1c1c1c">20</text>
<line x1="659.90" y1="292.5" x2="659.90" y2="295.5" stroke="#444" stroke-width="0.8"/>
<text transform="translate(654.62,304.95) scale(1.0400,1)" font-size="8.7" fill="#1c1c1c">30</text>
<line x1="401.5" y1="273.70" x2="404.5" y2="273.70" stroke="#444" stroke-width="0.8"/>
<rect x="381.49" y="273.62" width="3.9" height="0.95" fill="#1c1c1c"/>
<text transform="translate(387.79,277.15) scale(1.0400,1)" font-size="8.7" fill="#1c1c1c">30</text>
<line x1="401.5" y1="234.00" x2="404.5" y2="234.00" stroke="#444" stroke-width="0.8"/>
<rect x="381.49" y="233.92" width="3.9" height="0.95" fill="#1c1c1c"/>
<text transform="translate(387.79,237.45) scale(1.0400,1)" font-size="8.7" fill="#1c1c1c">20</text>
<line x1="401.5" y1="194.30" x2="404.5" y2="194.30" stroke="#444" stroke-width="0.8"/>
<rect x="381.49" y="194.22" width="3.9" height="0.95" fill="#1c1c1c"/>
<path transform="translate(387.79,197.75) scale(0.00905,-0.00870)" d="M372.6 0L284.7 0L284.7 560Q235 512 117.2 456L117.2 541Q212 588 258 640Q289 678 299.3 716L372.6 716Z" fill="#1c1c1c" stroke="#1c1c1c" stroke-width="0.22" vector-effect="non-scaling-stroke"/>
<text transform="translate(392.82,197.75) scale(1.0400,1)" font-size="8.7" fill="#1c1c1c">0</text>
<line x1="401.5" y1="154.60" x2="404.5" y2="154.60" stroke="#444" stroke-width="0.8"/>
<text transform="translate(392.82,158.05) scale(1.0400,1)" font-size="8.7" fill="#1c1c1c">0</text>
<line x1="401.5" y1="114.90" x2="404.5" y2="114.90" stroke="#444" stroke-width="0.8"/>
<path transform="translate(387.79,118.35) scale(0.00905,-0.00870)" d="M372.6 0L284.7 0L284.7 560Q235 512 117.2 456L117.2 541Q212 588 258 640Q289 678 299.3 716L372.6 716Z" fill="#1c1c1c" stroke="#1c1c1c" stroke-width="0.22" vector-effect="non-scaling-stroke"/>
<text transform="translate(392.82,118.35) scale(1.0400,1)" font-size="8.7" fill="#1c1c1c">0</text>
<line x1="401.5" y1="75.20" x2="404.5" y2="75.20" stroke="#444" stroke-width="0.8"/>
<text transform="translate(387.79,78.65) scale(1.0400,1)" font-size="8.7" fill="#1c1c1c">20</text>
<line x1="401.5" y1="35.50" x2="404.5" y2="35.50" stroke="#444" stroke-width="0.8"/>
<text transform="translate(387.79,38.95) scale(1.0400,1)" font-size="8.7" fill="#1c1c1c">30</text>
<text transform="translate(532.89,316.70) scale(0.9650,1)" font-size="8.8" fill="#1c1c1c">tSNE</text>
<path transform="translate(552.71,316.70) scale(0.00849,-0.00880)" d="M372.6 0L284.7 0L284.7 560Q235 512 117.2 456L117.2 541Q212 588 258 640Q289 678 299.3 716L372.6 716Z" fill="#1c1c1c" stroke="#1c1c1c" stroke-width="0.22" vector-effect="non-scaling-stroke"/>
<g transform="translate(376.8,156.60) rotate(-90)"><text transform="translate(-12.06,0.00) scale(0.9180,1)" font-size="9.2" fill="#1c1c1c">tSNE2</text></g>
<rect x="408.4" y="23.9" width="53" height="39.5" rx="1.6" fill="#fff" fill-opacity="0.8" stroke="#d6d6d6" stroke-width="0.9"/>
<text x="418.70" y="33.80" font-size="8.3" fill="#1c1c1c" textLength="31.67" lengthAdjust="spacingAndGlyphs">Classes</text>
<circle cx="420.0" cy="43.60" r="3.15" fill="#ff0000" stroke="#fff" stroke-width="0.4"/>
<text x="434.80" y="45.80" font-size="8.3" fill="#1c1c1c" textLength="22.60" lengthAdjust="spacingAndGlyphs">LUAD</text>
<circle cx="420.0" cy="55.70" r="3.15" fill="#0000ff" stroke="#fff" stroke-width="0.4"/>
<text x="434.81" y="57.90" font-size="8.3" fill="#1c1c1c" textLength="22.51" lengthAdjust="spacingAndGlyphs">LUSC</text>
<text x="360.04" y="11.80" font-size="17" fill="#000" textLength="10.02" lengthAdjust="spacingAndGlyphs">b</text>
<g stroke="#fff" stroke-width="0.5">
<circle class="r" cx="276.3" cy="377.9" r="2.5"/>
<circle class="r" cx="276.8" cy="388.1" r="2.5"/>
<circle class="r" cx="276.5" cy="392.7" r="2.5"/>
<circle class="r" cx="272.6" cy="398.6" r="2.5"/>
<circle class="r" cx="282.8" cy="402.6" r="2.5"/>
<circle class="r" cx="267.4" cy="409.6" r="2.5"/>
<circle class="r" cx="267.4" cy="412.9" r="2.5"/>
<circle class="r" cx="275.8" cy="411.2" r="2.5"/>
<circle class="r" cx="281.9" cy="409.8" r="2.5"/>
<circle class="r" cx="288.7" cy="408.7" r="2.5"/>
<circle class="r" cx="287.0" cy="414.8" r="2.5"/>
<circle class="r" cx="305.2" cy="408.7" r="2.5"/>
<circle class="r" cx="269.8" cy="416.9" r="2.5"/>
<circle class="r" cx="278.6" cy="420.4" r="2.5"/>
<circle class="r" cx="291.2" cy="422.2" r="2.5"/>
<circle class="r" cx="303.4" cy="420.4" r="2.5"/>
<circle class="r" cx="268.4" cy="427.8" r="2.5"/>
<circle class="r" cx="276.3" cy="426.4" r="2.5"/>
<circle class="r" cx="283.3" cy="425.5" r="2.5"/>
<circle class="r" cx="284.2" cy="431.6" r="2.5"/>
<circle class="r" cx="291.5" cy="430.6" r="2.5"/>
<circle class="r" cx="260.4" cy="436.2" r="2.5"/>
<circle class="r" cx="265.1" cy="437.6" r="2.5"/>
<circle class="r" cx="253.4" cy="440.7" r="2.5"/>
<circle class="r" cx="270.2" cy="441.4" r="2.5"/>
<circle class="r" cx="281.0" cy="440.4" r="2.5"/>
<circle class="r" cx="281.7" cy="443.4" r="2.5"/>
<circle class="r" cx="243.1" cy="447.3" r="2.5"/>
<circle class="r" cx="259.5" cy="446.5" r="2.5"/>
<circle class="r" cx="278.2" cy="451.8" r="2.5"/>
<circle class="r" cx="290.8" cy="452.1" r="2.5"/>
<circle class="r" cx="256.4" cy="454.9" r="2.5"/>
<circle class="r" cx="276.8" cy="458.1" r="2.5"/>
<circle class="r" cx="295.0" cy="461.3" r="2.5"/>
<circle class="r" cx="266.0" cy="466.5" r="2.5"/>
<circle class="r" cx="255.7" cy="468.6" r="2.5"/>
<circle class="r" cx="233.3" cy="470.7" r="2.5"/>
<circle class="r" cx="236.8" cy="473.1" r="2.5"/>
<circle class="r" cx="252.0" cy="474.9" r="2.5"/>
<circle class="r" cx="262.7" cy="475.4" r="2.5"/>
<circle class="r" cx="270.5" cy="477.3" r="2.5"/>
<circle class="r" cx="234.0" cy="480.1" r="2.5"/>
<circle class="r" cx="255.7" cy="486.2" r="2.5"/>
<circle class="r" cx="259.0" cy="492.2" r="2.5"/>
<circle class="r" cx="240.8" cy="546.9" r="2.5"/>
<circle class="b" cx="275.8" cy="373.7" r="2.5"/>
<circle class="b" cx="292.6" cy="401.7" r="2.5"/>
<circle class="b" cx="296.8" cy="413.4" r="2.5"/>
<circle class="b" cx="243.5" cy="449.3" r="2.5"/>
<circle class="b" cx="257.1" cy="446.9" r="2.5"/>
<circle class="b" cx="269.1" cy="446.5" r="2.5"/>
<circle class="b" cx="281.0" cy="445.5" r="2.5"/>
<circle class="b" cx="268.4" cy="452.5" r="2.5"/>
<circle class="b" cx="235.7" cy="456.7" r="2.5"/>
<circle class="b" cx="253.9" cy="460.9" r="2.5"/>
<circle class="b" cx="270.7" cy="460.5" r="2.5"/>
<circle class="b" cx="302.4" cy="463.0" r="2.5"/>
<circle class="b" cx="296.0" cy="467.0" r="2.5"/>
<circle class="b" cx="249.2" cy="467.2" r="2.5"/>
<circle class="b" cx="266.9" cy="468.9" r="2.5"/>
<circle class="b" cx="280.0" cy="469.8" r="2.5"/>
<circle class="b" cx="300.2" cy="472.1" r="2.5"/>
<circle class="b" cx="285.6" cy="476.3" r="2.5"/>
<circle class="b" cx="287.6" cy="483.8" r="2.5"/>
<circle class="b" cx="298.8" cy="485.5" r="2.5"/>
<circle class="b" cx="307.6" cy="489.0" r="2.5"/>
<circle class="b" cx="299.6" cy="491.1" r="2.5"/>
<circle class="b" cx="263.4" cy="484.8" r="2.5"/>
<circle class="b" cx="248.7" cy="497.8" r="2.5"/>
<circle class="b" cx="252.9" cy="503.4" r="2.5"/>
<circle class="b" cx="248.0" cy="504.8" r="2.5"/>
<circle class="b" cx="255.7" cy="507.6" r="2.5"/>
<circle class="b" cx="261.8" cy="503.0" r="2.5"/>
<circle class="b" cx="249.2" cy="512.1" r="2.5"/>
<circle class="b" cx="294.0" cy="500.6" r="2.5"/>
<circle class="b" cx="168.2" cy="496.1" r="2.5"/>
<circle class="b" cx="164.3" cy="499.5" r="2.5"/>
<circle class="b" cx="164.7" cy="503.4" r="2.5"/>
<circle class="b" cx="170.7" cy="508.7" r="2.5"/>
<circle class="b" cx="156.7" cy="512.9" r="2.5"/>
<circle class="b" cx="167.9" cy="518.1" r="2.5"/>
<circle class="b" cx="161.5" cy="521.9" r="2.5"/>
<circle class="b" cx="168.2" cy="528.4" r="2.5"/>
<circle class="b" cx="155.9" cy="533.1" r="2.5"/>
<circle class="b" cx="169.6" cy="537.7" r="2.5"/>
<circle class="b" cx="159.8" cy="540.1" r="2.5"/>
<circle class="b" cx="179.7" cy="535.9" r="2.5"/>
<circle class="b" cx="160.1" cy="549.7" r="2.5"/>
<circle class="b" cx="174.9" cy="546.6" r="2.5"/>
<circle class="b" cx="172.1" cy="552.5" r="2.5"/>
<circle class="b" cx="177.7" cy="554.1" r="2.5"/>
<circle class="b" cx="185.3" cy="553.6" r="2.5"/>
<circle class="b" cx="192.0" cy="548.0" r="2.5"/>
<circle class="b" cx="191.8" cy="556.0" r="2.5"/>
<circle class="b" cx="197.9" cy="555.3" r="2.5"/>
<circle class="b" cx="182.0" cy="560.2" r="2.5"/>
<circle class="b" cx="169.6" cy="560.6" r="2.5"/>
<circle class="b" cx="196.2" cy="561.6" r="2.5"/>
<circle class="b" cx="204.0" cy="563.4" r="2.5"/>
<circle class="b" cx="187.8" cy="567.9" r="2.5"/>
<circle class="b" cx="176.6" cy="570.0" r="2.5"/>
<circle class="b" cx="170.7" cy="573.5" r="2.5"/>
<circle class="b" cx="202.6" cy="501.3" r="2.5"/>
<circle class="b" cx="207.2" cy="519.1" r="2.5"/>
<circle class="b" cx="201.6" cy="524.4" r="2.5"/>
<circle class="b" cx="196.0" cy="529.8" r="2.5"/>
<circle class="b" cx="199.3" cy="535.4" r="2.5"/>
<circle class="b" cx="203.0" cy="533.1" r="2.5"/>
<circle class="b" cx="206.1" cy="535.9" r="2.5"/>
<circle class="b" cx="225.0" cy="531.7" r="2.5"/>
<circle class="b" cx="227.8" cy="530.7" r="2.5"/>
<circle class="b" cx="240.8" cy="537.7" r="2.5"/>
<circle class="b" cx="245.3" cy="525.8" r="2.5"/>
<circle class="b" cx="245.3" cy="541.0" r="2.5"/>
<circle class="b" cx="225.0" cy="547.1" r="2.5"/>
<circle class="b" cx="215.9" cy="550.4" r="2.5"/>
<circle class="b" cx="224.0" cy="556.4" r="2.5"/>
<circle class="b" cx="220.8" cy="561.1" r="2.5"/>
<circle class="b" cx="233.8" cy="550.8" r="2.5"/>
<circle class="b" cx="233.8" cy="554.6" r="2.5"/>
<circle class="b" cx="234.8" cy="559.7" r="2.5"/>
<circle class="b" cx="150.7" cy="564.4" r="2.5"/>
<circle class="b" cx="187.8" cy="574.2" r="2.5"/>
<circle class="b" cx="197.4" cy="574.9" r="2.5"/>
<circle class="b" cx="179.4" cy="574.9" r="2.5"/>
<circle class="b" cx="202.6" cy="579.9" r="2.5"/>
<circle class="b" cx="214.2" cy="577.1" r="2.5"/>
<circle class="b" cx="189.2" cy="582.7" r="2.5"/>
<circle class="b" cx="184.8" cy="586.3" r="2.5"/>
<circle class="b" cx="192.0" cy="587.3" r="2.5"/>
<circle class="b" cx="196.9" cy="590.8" r="2.5"/>
<circle class="b" cx="208.2" cy="589.4" r="2.5"/>
<circle class="b" cx="154.9" cy="589.2" r="2.5"/>
<circle class="b" cx="181.1" cy="595.0" r="2.5"/>
<circle class="b" cx="196.0" cy="594.3" r="2.5"/>
<circle class="b" cx="206.8" cy="594.8" r="2.5"/>
<circle class="b" cx="168.9" cy="597.6" r="2.5"/>
<circle class="b" cx="172.1" cy="599.2" r="2.5"/>
<circle class="b" cx="189.9" cy="600.6" r="2.5"/>
<circle class="b" cx="202.1" cy="602.0" r="2.5"/>
<circle class="b" cx="161.2" cy="604.1" r="2.5"/>
<circle class="b" cx="178.0" cy="603.7" r="2.5"/>
<circle class="b" cx="52.6" cy="561.0" r="2.5"/>
<circle class="b" cx="55.8" cy="563.6" r="2.5"/>
<circle class="b" cx="60.1" cy="568.0" r="2.5"/>
<circle class="b" cx="64.5" cy="571.2" r="2.5"/>
<circle class="b" cx="70.7" cy="572.9" r="2.5"/>
<circle class="b" cx="76.8" cy="572.9" r="2.5"/>
<circle class="b" cx="82.0" cy="577.1" r="2.5"/>
<circle class="b" cx="90.8" cy="575.0" r="2.5"/>
<circle class="b" cx="99.6" cy="571.2" r="2.5"/>
<circle class="b" cx="98.2" cy="573.6" r="2.5"/>
<circle class="b" cx="108.0" cy="571.5" r="2.5"/>
<circle class="b" cx="104.8" cy="577.7" r="2.5"/>
<circle class="b" cx="90.8" cy="582.9" r="2.5"/>
<circle class="b" cx="98.7" cy="586.9" r="2.5"/>
<circle class="b" cx="111.8" cy="586.4" r="2.5"/>
<circle class="b" cx="103.9" cy="592.2" r="2.5"/>
<circle class="b" cx="115.0" cy="591.2" r="2.5"/>
<circle class="b" cx="122.3" cy="586.9" r="2.5"/>
<circle class="b" cx="125.8" cy="591.7" r="2.5"/>
<circle class="b" cx="123.2" cy="578.2" r="2.5"/>
<circle class="b" cx="129.0" cy="579.9" r="2.5"/>
<circle class="b" cx="138.5" cy="585.5" r="2.5"/>
<circle class="b" cx="146.0" cy="589.9" r="2.5"/>
<circle class="b" cx="134.2" cy="594.0" r="2.5"/>
<circle class="b" cx="97.8" cy="595.7" r="2.5"/>
<circle class="b" cx="115.7" cy="596.9" r="2.5"/>
<circle class="b" cx="126.2" cy="596.9" r="2.5"/>
<circle class="b" cx="94.0" cy="599.9" r="2.5"/>
<circle class="b" cx="85.2" cy="601.0" r="2.5"/>
<circle class="b" cx="92.2" cy="603.9" r="2.5"/>
<circle class="b" cx="100.4" cy="605.7" r="2.5"/>
<circle class="b" cx="104.5" cy="602.7" r="2.5"/>
<circle class="b" cx="111.8" cy="601.0" r="2.5"/>
<circle class="b" cx="119.2" cy="606.6" r="2.5"/>
<circle class="b" cx="126.2" cy="602.7" r="2.5"/>
<circle class="b" cx="134.9" cy="603.9" r="2.5"/>
<circle class="b" cx="140.2" cy="606.2" r="2.5"/>
<circle class="b" cx="144.8" cy="598.7" r="2.5"/>
<circle class="b" cx="132.5" cy="609.7" r="2.5"/>
<circle class="b" cx="138.1" cy="610.4" r="2.5"/>
<circle class="b" cx="125.5" cy="617.1" r="2.5"/>
<circle class="b" cx="113.2" cy="619.7" r="2.5"/>
<circle class="b" cx="108.7" cy="622.0" r="2.5"/>
<circle class="b" cx="129.0" cy="556.1" r="2.5"/>
<circle class="b" cx="145.5" cy="501.6" r="2.5"/>
<circle class="b" cx="140.7" cy="509.9" r="2.5"/>
<circle class="b" cx="140.7" cy="519.1" r="2.5"/>
<circle class="b" cx="145.1" cy="525.5" r="2.5"/>
<circle class="b" cx="201.0" cy="486.6" r="2.5"/>
<circle class="b" cx="203.9" cy="483.2" r="2.5"/>
<circle class="b" cx="209.3" cy="482.6" r="2.5"/>
<circle class="b" cx="130.7" cy="510.8" r="2.5"/>
<circle class="b" cx="126.7" cy="516.1" r="2.5"/>
<circle class="b" cx="131.5" cy="519.8" r="2.5"/>
<circle class="b" cx="255.4" cy="519.5" r="2.5"/>
</g>
<rect x="40" y="361.45" width="280.5" height="272.8" fill="none" stroke="#333" stroke-width="0.85"/>
<line x1="85.52" y1="634.25" x2="85.52" y2="637.25" stroke="#444" stroke-width="0.8"/>
<rect x="77.28" y="642.73" width="3.9" height="0.95" fill="#1c1c1c"/>
<path transform="translate(83.58,646.25) scale(0.00905,-0.00870)" d="M372.6 0L284.7 0L284.7 560Q235 512 117.2 456L117.2 541Q212 588 258 640Q289 678 299.3 716L372.6 716Z" fill="#1c1c1c" stroke="#1c1c1c" stroke-width="0.22" vector-effect="non-scaling-stroke"/>
<text transform="translate(88.62,646.25) scale(1.0400,1)" font-size="8.7" fill="#1c1c1c">5</text>
<line x1="132.75" y1="634.25" x2="132.75" y2="637.25" stroke="#444" stroke-width="0.8"/>
<rect x="124.49" y="642.73" width="3.9" height="0.95" fill="#1c1c1c"/>
<path transform="translate(130.79,646.25) scale(0.00905,-0.00870)" d="M372.6 0L284.7 0L284.7 560Q235 512 117.2 456L117.2 541Q212 588 258 640Q289 678 299.3 716L372.6 716Z" fill="#1c1c1c" stroke="#1c1c1c" stroke-width="0.22" vector-effect="non-scaling-stroke"/>
<text transform="translate(135.83,646.25) scale(1.0400,1)" font-size="8.7" fill="#1c1c1c">0</text>
<line x1="179.97" y1="634.25" x2="179.97" y2="637.25" stroke="#444" stroke-width="0.8"/>
<rect x="174.25" y="642.73" width="3.9" height="0.95" fill="#1c1c1c"/>
<text transform="translate(180.55,646.25) scale(1.0400,1)" font-size="8.7" fill="#1c1c1c">5</text>
<line x1="227.20" y1="634.25" x2="227.20" y2="637.25" stroke="#444" stroke-width="0.8"/>
<text transform="translate(224.43,646.25) scale(1.0400,1)" font-size="8.7" fill="#1c1c1c">0</text>
<line x1="274.43" y1="634.25" x2="274.43" y2="637.25" stroke="#444" stroke-width="0.8"/>
<text transform="translate(271.67,646.25) scale(1.0400,1)" font-size="8.7" fill="#1c1c1c">5</text>
<line x1="37.0" y1="605.45" x2="40" y2="605.45" stroke="#444" stroke-width="0.8"/>
<rect x="16.99" y="605.38" width="3.9" height="0.95" fill="#1c1c1c"/>
<path transform="translate(23.29,608.90) scale(0.00905,-0.00870)" d="M372.6 0L284.7 0L284.7 560Q235 512 117.2 456L117.2 541Q212 588 258 640Q289 678 299.3 716L372.6 716Z" fill="#1c1c1c" stroke="#1c1c1c" stroke-width="0.22" vector-effect="non-scaling-stroke"/>
<text transform="translate(28.32,608.90) scale(1.0400,1)" font-size="8.7" fill="#1c1c1c">0</text>
<line x1="37.0" y1="565.67" x2="40" y2="565.67" stroke="#444" stroke-width="0.8"/>
<rect x="22.05" y="565.60" width="3.9" height="0.95" fill="#1c1c1c"/>
<text transform="translate(28.35,569.12) scale(1.0400,1)" font-size="8.7" fill="#1c1c1c">5</text>
<line x1="37.0" y1="525.90" x2="40" y2="525.90" stroke="#444" stroke-width="0.8"/>
<text transform="translate(28.32,529.35) scale(1.0400,1)" font-size="8.7" fill="#1c1c1c">0</text>
<line x1="37.0" y1="486.12" x2="40" y2="486.12" stroke="#444" stroke-width="0.8"/>
<text transform="translate(28.35,489.57) scale(1.0400,1)" font-size="8.7" fill="#1c1c1c">5</text>
<line x1="37.0" y1="446.35" x2="40" y2="446.35" stroke="#444" stroke-width="0.8"/>
<path transform="translate(23.29,449.80) scale(0.00905,-0.00870)" d="M372.6 0L284.7 0L284.7 560Q235 512 117.2 456L117.2 541Q212 588 258 640Q289 678 299.3 716L372.6 716Z" fill="#1c1c1c" stroke="#1c1c1c" stroke-width="0.22" vector-effect="non-scaling-stroke"/>
<text transform="translate(28.32,449.80) scale(1.0400,1)" font-size="8.7" fill="#1c1c1c">0</text>
<line x1="37.0" y1="406.57" x2="40" y2="406.57" stroke="#444" stroke-width="0.8"/>
<path transform="translate(23.32,410.02) scale(0.00905,-0.00870)" d="M372.6 0L284.7 0L284.7 560Q235 512 117.2 456L117.2 541Q212 588 258 640Q289 678 299.3 716L372.6 716Z" fill="#1c1c1c" stroke="#1c1c1c" stroke-width="0.22" vector-effect="non-scaling-stroke"/>
<text transform="translate(28.35,410.02) scale(1.0400,1)" font-size="8.7" fill="#1c1c1c">5</text>
<line x1="37.0" y1="366.80" x2="40" y2="366.80" stroke="#444" stroke-width="0.8"/>
<text transform="translate(23.29,370.25) scale(1.0400,1)" font-size="8.7" fill="#1c1c1c">20</text>
<text transform="translate(168.69,658.10) scale(0.9650,1)" font-size="8.8" fill="#1c1c1c">tSNE</text>
<path transform="translate(188.51,658.10) scale(0.00849,-0.00880)" d="M372.6 0L284.7 0L284.7 560Q235 512 117.2 456L117.2 541Q212 588 258 640Q289 678 299.3 716L372.6 716Z" fill="#1c1c1c" stroke="#1c1c1c" stroke-width="0.22" vector-effect="non-scaling-stroke"/>
<g transform="translate(11.8,498.85) rotate(-90)"><text transform="translate(-12.06,0.00) scale(0.9180,1)" font-size="9.2" fill="#1c1c1c">tSNE2</text></g>
<rect x="44.4" y="365.7" width="49" height="39.4" rx="1.6" fill="#fff" fill-opacity="0.8" stroke="#d6d6d6" stroke-width="0.9"/>
<text x="52.85" y="375.60" font-size="8.3" fill="#1c1c1c" textLength="31.67" lengthAdjust="spacingAndGlyphs">Classes</text>
<circle cx="56.0" cy="385.40" r="3.15" fill="#ff0000" stroke="#fff" stroke-width="0.4"/>
<text x="70.65" y="387.60" font-size="8.3" fill="#1c1c1c" textLength="20.17" lengthAdjust="spacingAndGlyphs">GBM</text>
<circle cx="56.0" cy="397.60" r="3.15" fill="#0000ff" stroke="#fff" stroke-width="0.4"/>
<text x="70.38" y="399.80" font-size="8.3" fill="#1c1c1c" textLength="18.58" lengthAdjust="spacingAndGlyphs">LGG</text>
<text x="-0.89" y="352.40" font-size="17" fill="#000" textLength="9.28" lengthAdjust="spacingAndGlyphs">c</text>
<g stroke="#fff" stroke-width="0.4">
<circle class="r" cx="532.1" cy="373.8" r="2.35"/>
<circle class="r" cx="518.5" cy="389.7" r="2.35"/>
<circle class="r" cx="538.0" cy="400.4" r="2.35"/>
<circle class="r" cx="466.1" cy="443.6" r="2.35"/>
<circle class="r" cx="451.2" cy="456.1" r="2.35"/>
<circle class="r" cx="448.3" cy="472.7" r="2.35"/>
<circle class="r" cx="427.8" cy="486.1" r="2.35"/>
<circle class="r" cx="454.6" cy="507.3" r="2.35"/>
<circle class="r" cx="486.6" cy="518.8" r="2.35"/>
<circle class="r" cx="509.7" cy="514.1" r="2.35"/>
<circle class="r" cx="455.1" cy="531.6" r="2.35"/>
<circle class="r" cx="485.9" cy="537.3" r="2.35"/>
<circle class="r" cx="436.6" cy="545.2" r="2.35"/>
<circle class="r" cx="584.6" cy="448.7" r="2.35"/>
<circle class="r" cx="665.9" cy="475.3" r="2.35"/>
<circle class="r" cx="649.7" cy="487.0" r="2.35"/>
<circle class="r" cx="607.0" cy="506.1" r="2.35"/>
<circle class="r" cx="590.2" cy="522.1" r="2.35"/>
<circle class="r" cx="608.0" cy="534.2" r="2.35"/>
<circle class="r" cx="572.8" cy="562.6" r="2.35"/>
<circle class="r" cx="554.8" cy="575.4" r="2.35"/>
<circle class="r" cx="577.7" cy="581.3" r="2.35"/>
<circle class="b" cx="507.0" cy="402.3" r="2.35"/>
<circle class="b" cx="502.3" cy="418.4" r="2.35"/>
<circle class="b" cx="504.4" cy="443.6" r="2.35"/>
<circle class="b" cx="488.7" cy="457.4" r="2.35"/>
<circle class="b" cx="480.2" cy="476.5" r="2.35"/>
<circle class="b" cx="453.8" cy="489.3" r="2.35"/>
<circle class="b" cx="440.0" cy="520.7" r="2.35"/>
<circle class="b" cx="512.7" cy="537.8" r="2.35"/>
<circle class="b" cx="487.4" cy="570.3" r="2.35"/>
<circle class="b" cx="513.1" cy="582.0" r="2.35"/>
<circle class="b" cx="552.1" cy="459.8" r="2.35"/>
<circle class="b" cx="599.3" cy="462.1" r="2.35"/>
<circle class="b" cx="594.9" cy="477.0" r="2.35"/>
<circle class="b" cx="589.1" cy="491.9" r="2.35"/>
<circle class="b" cx="641.2" cy="505.9" r="2.35"/>
<circle class="b" cx="628.4" cy="520.6" r="2.35"/>
<circle class="b" cx="581.3" cy="608.4" r="2.35"/>
<circle class="b" cx="550.6" cy="621.1" r="2.35"/>
<circle class="o" cx="526.8" cy="414.2" r="2.35"/>
<circle class="o" cx="531.2" cy="433.8" r="2.35"/>
<circle class="o" cx="511.2" cy="480.8" r="2.35"/>
<circle class="o" cx="488.5" cy="494.2" r="2.35"/>
<circle class="o" cx="425.9" cy="503.5" r="2.35"/>
<circle class="o" cx="467.4" cy="548.8" r="2.35"/>
<circle class="o" cx="505.7" cy="553.7" r="2.35"/>
<circle class="o" cx="539.3" cy="562.4" r="2.35"/>
<circle class="o" cx="471.7" cy="582.2" r="2.35"/>
<circle class="o" cx="541.9" cy="588.6" r="2.35"/>
<circle class="o" cx="616.1" cy="432.1" r="2.35"/>
<circle class="o" cx="621.9" cy="443.4" r="2.35"/>
<circle class="o" cx="639.7" cy="462.1" r="2.35"/>
<circle class="o" cx="671.8" cy="498.2" r="2.35"/>
<circle class="o" cx="548.3" cy="503.6" r="2.35"/>
<circle class="o" cx="561.3" cy="512.5" r="2.35"/>
<circle class="o" cx="551.5" cy="534.8" r="2.35"/>
<circle class="o" cx="630.1" cy="545.9" r="2.35"/>
<circle class="g" cx="521.4" cy="465.3" r="2.35"/>
<circle class="g" cx="508.7" cy="496.7" r="2.35"/>
<circle class="g" cx="532.9" cy="518.0" r="2.35"/>
<circle class="g" cx="416.8" cy="535.0" r="2.35"/>
<circle class="g" cx="535.7" cy="545.4" r="2.35"/>
<circle class="g" cx="438.0" cy="569.5" r="2.35"/>
<circle class="g" cx="492.7" cy="592.7" r="2.35"/>
<circle class="g" cx="519.5" cy="596.7" r="2.35"/>
<circle class="g" cx="478.0" cy="607.8" r="2.35"/>
<circle class="g" cx="505.5" cy="609.3" r="2.35"/>
<circle class="g" cx="534.4" cy="608.2" r="2.35"/>
<circle class="g" cx="519.1" cy="621.8" r="2.35"/>
<circle class="g" cx="626.5" cy="475.9" r="2.35"/>
<circle class="g" cx="624.2" cy="492.9" r="2.35"/>
<circle class="g" cx="652.7" cy="524.0" r="2.35"/>
<circle class="g" cx="651.4" cy="538.0" r="2.35"/>
<circle class="g" cx="566.4" cy="544.6" r="2.35"/>
<circle class="g" cx="604.4" cy="563.9" r="2.35"/>
<circle class="g" cx="604.4" cy="578.7" r="2.35"/>
<circle class="g" cx="603.5" cy="594.6" r="2.35"/>
<circle class="g" cx="563.7" cy="598.2" r="2.35"/>
</g>
<rect x="404.5" y="361.45" width="279.70000000000005" height="272.8" fill="none" stroke="#333" stroke-width="0.85"/>
<line x1="405.42" y1="634.25" x2="405.42" y2="637.25" stroke="#444" stroke-width="0.8"/>
<rect x="397.16" y="642.73" width="3.9" height="0.95" fill="#1c1c1c"/>
<text transform="translate(403.46,646.25) scale(1.0400,1)" font-size="8.7" fill="#1c1c1c">20</text>
<line x1="441.76" y1="634.25" x2="441.76" y2="637.25" stroke="#444" stroke-width="0.8"/>
<rect x="433.52" y="642.73" width="3.9" height="0.95" fill="#1c1c1c"/>
<path transform="translate(439.82,646.25) scale(0.00905,-0.00870)" d="M372.6 0L284.7 0L284.7 560Q235 512 117.2 456L117.2 541Q212 588 258 640Q289 678 299.3 716L372.6 716Z" fill="#1c1c1c" stroke="#1c1c1c" stroke-width="0.22" vector-effect="non-scaling-stroke"/>
<text transform="translate(444.86,646.25) scale(1.0400,1)" font-size="8.7" fill="#1c1c1c">5</text>
<line x1="478.11" y1="634.25" x2="478.11" y2="637.25" stroke="#444" stroke-width="0.8"/>
<rect x="469.85" y="642.73" width="3.9" height="0.95" fill="#1c1c1c"/>
<path transform="translate(476.15,646.25) scale(0.00905,-0.00870)" d="M372.6 0L284.7 0L284.7 560Q235 512 117.2 456L117.2 541Q212 588 258 640Q289 678 299.3 716L372.6 716Z" fill="#1c1c1c" stroke="#1c1c1c" stroke-width="0.22" vector-effect="non-scaling-stroke"/>
<text transform="translate(481.19,646.25) scale(1.0400,1)" font-size="8.7" fill="#1c1c1c">0</text>
<line x1="514.45" y1="634.25" x2="514.45" y2="637.25" stroke="#444" stroke-width="0.8"/>
<rect x="508.73" y="642.73" width="3.9" height="0.95" fill="#1c1c1c"/>
<text transform="translate(515.03,646.25) scale(1.0400,1)" font-size="8.7" fill="#1c1c1c">5</text>
<line x1="550.80" y1="634.25" x2="550.80" y2="637.25" stroke="#444" stroke-width="0.8"/>
<text transform="translate(548.03,646.25) scale(1.0400,1)" font-size="8.7" fill="#1c1c1c">0</text>
<line x1="587.14" y1="634.25" x2="587.14" y2="637.25" stroke="#444" stroke-width="0.8"/>
<text transform="translate(584.39,646.25) scale(1.0400,1)" font-size="8.7" fill="#1c1c1c">5</text>
<line x1="623.49" y1="634.25" x2="623.49" y2="637.25" stroke="#444" stroke-width="0.8"/>
<path transform="translate(617.85,646.25) scale(0.00905,-0.00870)" d="M372.6 0L284.7 0L284.7 560Q235 512 117.2 456L117.2 541Q212 588 258 640Q289 678 299.3 716L372.6 716Z" fill="#1c1c1c" stroke="#1c1c1c" stroke-width="0.22" vector-effect="non-scaling-stroke"/>
<text transform="translate(622.89,646.25) scale(1.0400,1)" font-size="8.7" fill="#1c1c1c">0</text>
<line x1="659.83" y1="634.25" x2="659.83" y2="637.25" stroke="#444" stroke-width="0.8"/>
<path transform="translate(654.21,646.25) scale(0.00905,-0.00870)" d="M372.6 0L284.7 0L284.7 560Q235 512 117.2 456L117.2 541Q212 588 258 640Q289 678 299.3 716L372.6 716Z" fill="#1c1c1c" stroke="#1c1c1c" stroke-width="0.22" vector-effect="non-scaling-stroke"/>
<text transform="translate(659.24,646.25) scale(1.0400,1)" font-size="8.7" fill="#1c1c1c">5</text>
<line x1="401.5" y1="614.31" x2="404.5" y2="614.31" stroke="#444" stroke-width="0.8"/>
<rect x="381.49" y="614.24" width="3.9" height="0.95" fill="#1c1c1c"/>
<text transform="translate(387.79,617.76) scale(1.0400,1)" font-size="8.7" fill="#1c1c1c">30</text>
<line x1="401.5" y1="575.84" x2="404.5" y2="575.84" stroke="#444" stroke-width="0.8"/>
<rect x="381.49" y="575.76" width="3.9" height="0.95" fill="#1c1c1c"/>
<text transform="translate(387.79,579.29) scale(1.0400,1)" font-size="8.7" fill="#1c1c1c">20</text>
<line x1="401.5" y1="537.37" x2="404.5" y2="537.37" stroke="#444" stroke-width="0.8"/>
<rect x="381.49" y="537.30" width="3.9" height="0.95" fill="#1c1c1c"/>
<path transform="translate(387.79,540.82) scale(0.00905,-0.00870)" d="M372.6 0L284.7 0L284.7 560Q235 512 117.2 456L117.2 541Q212 588 258 640Q289 678 299.3 716L372.6 716Z" fill="#1c1c1c" stroke="#1c1c1c" stroke-width="0.22" vector-effect="non-scaling-stroke"/>
<text transform="translate(392.82,540.82) scale(1.0400,1)" font-size="8.7" fill="#1c1c1c">0</text>
<line x1="401.5" y1="498.90" x2="404.5" y2="498.90" stroke="#444" stroke-width="0.8"/>
<text transform="translate(392.82,502.35) scale(1.0400,1)" font-size="8.7" fill="#1c1c1c">0</text>
<line x1="401.5" y1="460.43" x2="404.5" y2="460.43" stroke="#444" stroke-width="0.8"/>
<path transform="translate(387.79,463.88) scale(0.00905,-0.00870)" d="M372.6 0L284.7 0L284.7 560Q235 512 117.2 456L117.2 541Q212 588 258 640Q289 678 299.3 716L372.6 716Z" fill="#1c1c1c" stroke="#1c1c1c" stroke-width="0.22" vector-effect="non-scaling-stroke"/>
<text transform="translate(392.82,463.88) scale(1.0400,1)" font-size="8.7" fill="#1c1c1c">0</text>
<line x1="401.5" y1="421.96" x2="404.5" y2="421.96" stroke="#444" stroke-width="0.8"/>
<text transform="translate(387.79,425.41) scale(1.0400,1)" font-size="8.7" fill="#1c1c1c">20</text>
<line x1="401.5" y1="383.49" x2="404.5" y2="383.49" stroke="#444" stroke-width="0.8"/>
<text transform="translate(387.79,386.94) scale(1.0400,1)" font-size="8.7" fill="#1c1c1c">30</text>
<text transform="translate(532.79,658.10) scale(0.9650,1)" font-size="8.8" fill="#1c1c1c">tSNE</text>
<path transform="translate(552.61,658.10) scale(0.00849,-0.00880)" d="M372.6 0L284.7 0L284.7 560Q235 512 117.2 456L117.2 541Q212 588 258 640Q289 678 299.3 716L372.6 716Z" fill="#1c1c1c" stroke="#1c1c1c" stroke-width="0.22" vector-effect="non-scaling-stroke"/>
<g transform="translate(376.8,498.85) rotate(-90)"><text transform="translate(-12.06,0.00) scale(0.9180,1)" font-size="9.2" fill="#1c1c1c">tSNE2</text></g>
<rect x="547.6" y="365.3" width="132.5" height="65" rx="1.6" fill="#fff" fill-opacity="0.8" stroke="#d6d6d6" stroke-width="0.9"/>
<text x="597.80" y="375.40" font-size="8.3" fill="#1c1c1c" textLength="31.78" lengthAdjust="spacingAndGlyphs">Classes</text>
<circle cx="558.9" cy="385.10" r="3.15" fill="#ff0000" stroke="#fff" stroke-width="0.4"/>
<text x="573.24" y="387.80" font-size="8.3" fill="#1c1c1c" textLength="93.65" lengthAdjust="spacingAndGlyphs">HGSOC_Differentiated</text>
<circle cx="558.9" cy="397.60" r="3.15" fill="#0000ff" stroke="#fff" stroke-width="0.4"/>
<text x="573.25" y="400.30" font-size="8.3" fill="#1c1c1c" textLength="103.56" lengthAdjust="spacingAndGlyphs">HGSOC_Immunoreactive</text>
<circle cx="558.9" cy="410.10" r="3.15" fill="#008000" stroke="#fff" stroke-width="0.4"/>
<text x="573.26" y="412.80" font-size="8.3" fill="#1c1c1c" textLength="93.64" lengthAdjust="spacingAndGlyphs">HGSOC_Mesenchymal</text>
<circle cx="558.9" cy="422.60" r="3.15" fill="#ffa500" stroke="#fff" stroke-width="0.4"/>
<text x="573.27" y="425.30" font-size="8.3" fill="#1c1c1c" textLength="84.93" lengthAdjust="spacingAndGlyphs">HGSOC_Proliferative</text>
<text x="360.67" y="352.40" font-size="17" fill="#000" textLength="9.65" lengthAdjust="spacingAndGlyphs">d</text>
</svg>
</body></html>
